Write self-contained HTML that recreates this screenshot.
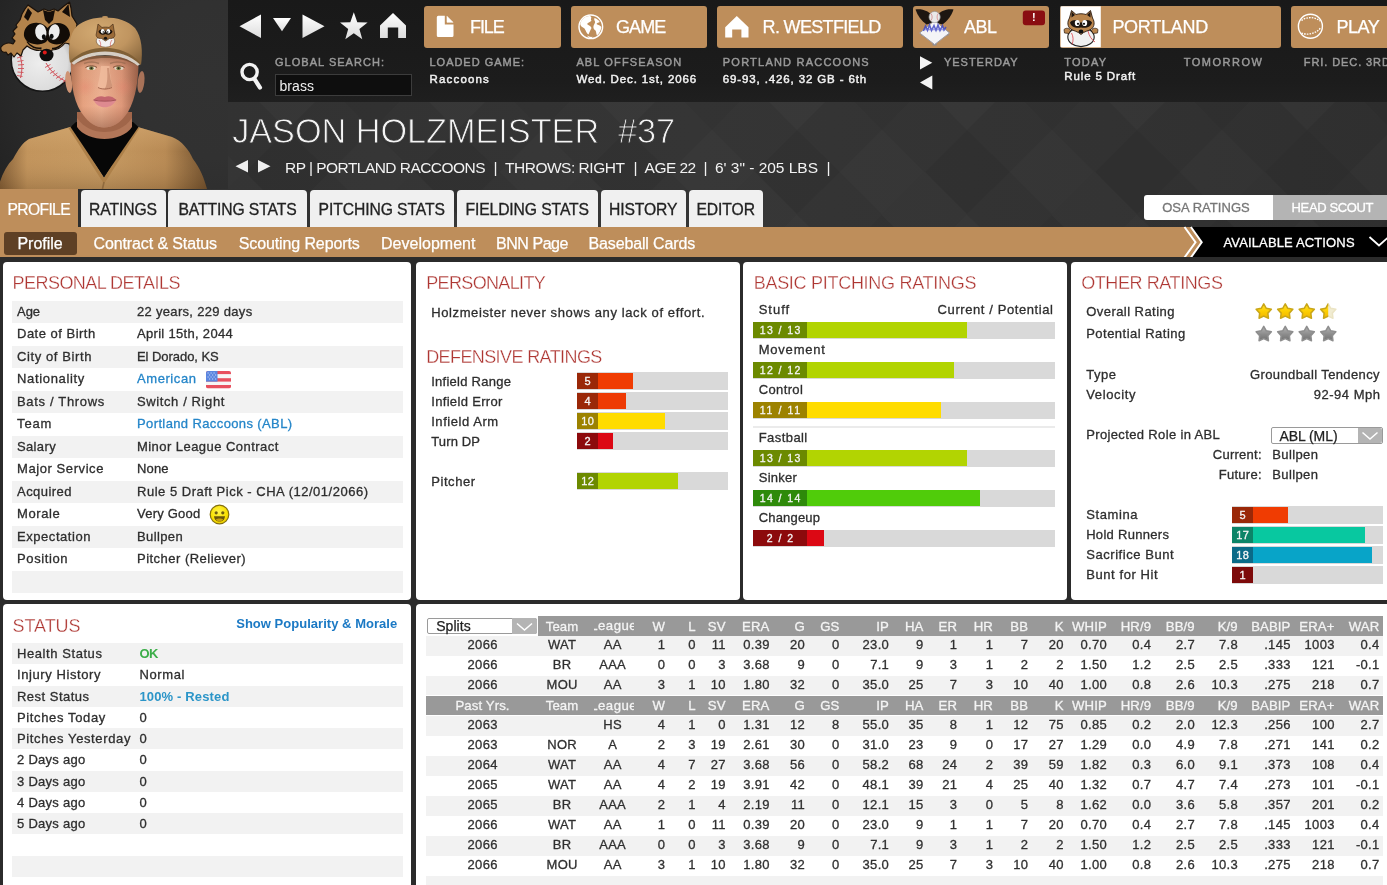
<!DOCTYPE html>
<html lang="en"><head><meta charset="utf-8"><title>Jason Holzmeister - Player Profile</title>
<style>
html,body{margin:0;padding:0}
body{width:1387px;height:885px;overflow:hidden;position:relative;background:#303030;
font-family:"Liberation Sans",sans-serif;-webkit-font-smoothing:antialiased}
.t{position:absolute;white-space:pre;margin:0;padding:0}
.b{position:absolute}
svg{position:absolute;overflow:visible}
</style></head><body>
<svg style="left:0;top:0" width="1387" height="262" viewBox="0 0 1387 262">
<defs>
<linearGradient id="hbg" x1="0" y1="0" x2="1" y2="0">
<stop offset="0" stop-color="#262626"/><stop offset="0.16" stop-color="#323232"/><stop offset="0.5" stop-color="#353535"/><stop offset="0.8" stop-color="#323232"/><stop offset="1" stop-color="#2f2f2f"/></linearGradient>
<pattern id="dia" width="170" height="170" patternUnits="userSpaceOnUse" patternTransform="translate(-10 -40)">
<path d="M42 0L84 42L42 84L0 42Z" fill="#fff" fill-opacity="0.016"/>
<path d="M127 0L170 42L127 84L85 42Z" fill="#000" fill-opacity="0.05"/>
<path d="M42 85L84 127L42 170L0 127Z" fill="#000" fill-opacity="0.04"/>
<path d="M127 85L170 127L127 170L85 127Z" fill="#fff" fill-opacity="0.02"/>
<path d="M85 42L127 85L85 127L42 85Z" fill="#fff" fill-opacity="0.012"/>
</pattern>
</defs>
<rect width="1387" height="262" fill="url(#hbg)"/>
<rect width="1387" height="262" fill="url(#dia)"/>
</svg>
<div class="b" style="left:227.00px;top:0.00px;width:1160.00px;height:102.40px;background:linear-gradient(#191919,#1c1c1c 80%,#1f1f1f);"></div>
<svg style="left:227px;top:0" width="200" height="102" viewBox="227 0 200 102">
<defs><linearGradient id="ig" x1="0" y1="0" x2="0" y2="1"><stop offset="0" stop-color="#ffffff"/><stop offset="1" stop-color="#dcdcdc"/></linearGradient></defs>
<g fill="url(#ig)">
<path d="M239.5 26.2L261 14.5V38Z"/>
<path d="M273 18H291L282 31.3Z"/>
<path d="M324.5 26.2L302.5 14.5V38Z"/>
<path d="M353.8 12.3L357.3 22.3L367.6 22.5L359.4 28.9L362.3 39.2L353.8 33.2L345.3 39.2L348.2 28.9L340 22.5L350.3 22.3Z"/>
<path d="M393 13L406 25.5V38H398.2V27.5H387.8V38H380V25.5Z"/>
</g>
<g fill="none" stroke="#f2f2f2" stroke-linecap="round">
<circle cx="249.6" cy="72" r="7.6" stroke-width="3.4"/>
<path d="M254.6 79.2L260 87.6" stroke-width="4.2"/>
</g>
</svg>
<div class="b" style="left:424.00px;top:5.50px;width:136.50px;height:42.50px;background:#be8e5b;border-radius:3px;"></div>
<div class="t" style="top:14.60px;font-size:18px;line-height:24px;color:#fff;letter-spacing:-1.066px;left:470.00px;-webkit-text-stroke:0.25px;">FILE</div>
<div class="b" style="left:570.50px;top:5.50px;width:136.50px;height:42.50px;background:#be8e5b;border-radius:3px;"></div>
<div class="t" style="top:14.60px;font-size:18px;line-height:24px;color:#fff;letter-spacing:-0.877px;left:616.00px;-webkit-text-stroke:0.25px;">GAME</div>
<div class="b" style="left:717.00px;top:5.50px;width:186.30px;height:42.50px;background:#be8e5b;border-radius:3px;"></div>
<div class="t" style="top:14.60px;font-size:18px;line-height:24px;color:#fff;letter-spacing:-0.668px;left:762.60px;-webkit-text-stroke:0.25px;">R. WESTFIELD</div>
<div class="b" style="left:913.30px;top:5.50px;width:136.00px;height:42.50px;background:#be8e5b;border-radius:3px;"></div>
<div class="t" style="top:14.60px;font-size:18px;line-height:24px;color:#fff;letter-spacing:-0.441px;left:963.90px;-webkit-text-stroke:0.25px;">ABL</div>
<div class="b" style="left:1059.80px;top:5.50px;width:221.20px;height:42.50px;background:#be8e5b;border-radius:3px;"></div>
<div class="t" style="top:14.60px;font-size:18px;line-height:24px;color:#fff;letter-spacing:-0.274px;left:1112.40px;-webkit-text-stroke:0.25px;">PORTLAND</div>
<div class="b" style="left:1290.80px;top:5.50px;width:110.00px;height:42.50px;background:#be8e5b;border-radius:3px;"></div>
<div class="t" style="top:14.60px;font-size:18px;line-height:24px;color:#fff;letter-spacing:-0.424px;left:1336.40px;-webkit-text-stroke:0.25px;">PLAY</div>
<svg style="left:420px;top:0" width="967" height="54" viewBox="420 0 967 54">
<!-- file icon -->
<path d="M438.300 15.800H444.800V24.400H453.500V35.500A1.500 1.500 0 0 1 452 37H438.300A1.500 1.500 0 0 1 436.800 35.500V17.300A1.500 1.500 0 0 1 438.300 15.800Z" fill="#fff"/>
<path d="M447 16.300L453 22.300H447Z" fill="#fff" stroke="#fff" stroke-width="0.600" stroke-linejoin="round"/>
<!-- globe icon -->
<circle cx="590.800" cy="26.800" r="11.800" fill="none" stroke="#fff" stroke-width="1.500"/>
<path d="M582.500 19.500C584.500 17 588 15.800 590.500 16.200C592.500 17.500 590 19 591.500 20.500C590.500 22.500 588 22 587 24C588.500 25.500 591 26 591.500 28C590.500 30 589.500 32 588.500 34.500C586.500 33.500 586 30.500 584.500 28.500C582.500 27 580.500 26.500 580.200 24C580.500 22 581.500 20.800 582.500 19.500Z" fill="#fff"/>
<path d="M594.500 18C596.500 18.500 598.500 20 599.800 22C598.500 23 597 22.500 596.500 24C598 25.500 600.500 25 601.300 27C601 30.500 599.500 33.500 597 35.500C596 34 596.500 32 595.500 30.500C594 29.500 593 28 593.500 26C594 24 595.500 23 595 21.500C594.500 20.500 593.800 19.200 594.500 18Z" fill="#fff"/>
<path d="M587 35.500C588.500 36.500 590.500 37.200 592.500 36.800L591.500 38.300C590 38.300 588.200 37.500 587 35.500Z" fill="#fff"/>
<!-- home icon -->
<path d="M736.8 16L748.5 27.2V37.6H741.4V29.6H732.2V37.6H725.2V27.2Z" fill="#fff"/>
<!-- ABL logo -->
<g>
<path d="M915.500 9.500C922 8.500 930 11 933.500 17.500L932 23L926.500 24.500C921.500 21 917.500 15.500 915.500 9.500Z" fill="#1d1611"/>
<path d="M953.500 9.500C947 8.500 939 11 935.500 17.500L937 23L942.500 24.500C947.500 21 951.500 15.500 953.500 9.500Z" fill="#1d1611"/>
<path d="M921 31.500h4v4h-4zM944.500 31.500h4v4h-4zM932.600 41.500h4v4h-4z" fill="#8b8b93"/>
<path d="M934.600 20.500L949.500 33L934.600 44.500L919.700 33Z" fill="#f4f4f7" stroke="#9c9ca6" stroke-width="1"/>
<path d="M923.500 31L925.500 26L927.500 30.500L929.500 25L931.500 30.500L934 25.500L936 30.500L938 25L940 30.500L942.500 25.500L944 30L946 27" fill="none" stroke="#4148c4" stroke-width="1.500" stroke-opacity="0.85"/>
<path d="M925 29.500H945" stroke="#6a70d8" stroke-width="1.600" stroke-opacity="0.6"/>
<circle cx="934.600" cy="17" r="5.600" fill="#e9e9e9" stroke="#9a9a9a" stroke-width="0.700"/>
<path d="M931 13.500C932.500 15.500 932.500 18.500 931 20.500M938.200 13.500C936.700 15.500 936.700 18.500 938.200 20.500" fill="none" stroke="#c66" stroke-width="0.600"/>
</g>
<!-- red badge -->
<rect x="1022.8" y="10.6" width="22.2" height="14.6" rx="3" fill="#8a0d12"/>
<!-- Portland logo box -->
<rect x="1060.6" y="6.3" width="40.2" height="41" fill="#fff"/>
<g>
<ellipse cx="1081" cy="37" rx="13.200" ry="9.600" fill="#f1f1f1" stroke="#222" stroke-width="1.100"/>
<path d="M1071.500 33C1073.500 36.500 1073.500 41 1072 44.500M1088 31C1089 36 1092 40 1095 42" fill="none" stroke="#d8404a" stroke-width="0.800"/>
<path d="M1064 29.500C1066 27.500 1069.500 28 1070.500 30.500L1069 33.500L1064.500 33Z M1098 29.500C1096 27.500 1092.500 28 1091.500 30.500L1093 33.500L1097.500 33Z" fill="#b9854d" stroke="#2a1a0e" stroke-width="0.700"/>
<path d="M1069.500 18L1071.500 10.500L1076 14.500C1079 13.500 1083 13.500 1086 14.500L1090.500 10.500L1092.500 18C1095 22 1094.500 26.500 1091.500 29C1088.500 31 1084.500 31 1081 34.500C1077.500 31 1073.500 31 1070.500 29C1067.500 26.500 1067 22 1069.500 18Z" fill="#b9854d" stroke="#2a1a0e" stroke-width="0.900"/>
<path d="M1071.500 11.500L1075 15L1071.500 17.500ZM1090.500 11.500L1087 15L1090.500 17.500Z" fill="#1d1510"/>
<path d="M1070 22.500C1073 19 1078.500 19.500 1081 23C1083.500 19.500 1089 19 1092 22.500C1091 27 1086.500 28.500 1081 27.500C1075.500 28.500 1071 27 1070 22.500Z" fill="#1d1510"/>
<ellipse cx="1077.300" cy="23" rx="2.500" ry="3.100" fill="#fff"/><ellipse cx="1084.700" cy="23" rx="2.500" ry="3.100" fill="#fff"/>
<circle cx="1078" cy="23.800" r="1.100" fill="#111"/><circle cx="1084" cy="23.800" r="1.100" fill="#111"/>
<ellipse cx="1081" cy="31.500" rx="2.400" ry="2.100" fill="#111"/>
</g>
<!-- play ball icon -->
<circle cx="1310.4" cy="26.3" r="12" fill="none" stroke="#fff" stroke-width="1.4"/>
<path d="M1301.5 20.5C1306 16.800 1315 16.5 1320 21" fill="none" stroke="#fff" stroke-width="1.3" stroke-dasharray="1.6 1.1"/>
<path d="M1301.500 33C1308 35.500 1316 33.500 1320.500 28" fill="none" stroke="#fff" stroke-width="1.3" stroke-dasharray="1.6 1.1"/>
</svg>
<div class="t" style="top:9.10px;font-size:11px;line-height:17px;color:#fff;font-weight:bold;left:733.90px;width:600px;text-align:center;">!</div>
<div class="t" style="top:53.90px;font-size:11px;line-height:17px;color:#9a9a9a;letter-spacing:1.031px;left:275.00px;-webkit-text-stroke:0.45px;">GLOBAL SEARCH:</div>
<div class="t" style="top:53.90px;font-size:11px;line-height:17px;color:#9a9a9a;letter-spacing:0.980px;left:429.50px;-webkit-text-stroke:0.45px;">LOADED GAME:</div>
<div class="t" style="top:70.85px;font-size:11.5px;line-height:17.5px;color:#f2f2f2;letter-spacing:1.170px;left:429.50px;-webkit-text-stroke:0.45px;">Raccoons</div>
<div class="t" style="top:53.90px;font-size:11px;line-height:17px;color:#9a9a9a;letter-spacing:1.132px;left:576.40px;-webkit-text-stroke:0.45px;">ABL OFFSEASON</div>
<div class="t" style="top:70.85px;font-size:11.5px;line-height:17.5px;color:#f2f2f2;letter-spacing:0.875px;left:576.40px;-webkit-text-stroke:0.45px;">Wed. Dec. 1st, 2066</div>
<div class="t" style="top:53.90px;font-size:11px;line-height:17px;color:#9a9a9a;letter-spacing:1.222px;left:722.80px;-webkit-text-stroke:0.45px;">PORTLAND RACCOONS</div>
<div class="t" style="top:70.85px;font-size:11.5px;line-height:17.5px;color:#f2f2f2;letter-spacing:0.867px;left:722.80px;-webkit-text-stroke:0.45px;">69-93, .426, 32 GB - 6th</div>
<div class="t" style="top:53.90px;font-size:11px;line-height:17px;color:#9a9a9a;letter-spacing:0.998px;left:943.90px;-webkit-text-stroke:0.45px;">YESTERDAY</div>
<div class="t" style="top:53.90px;font-size:11px;line-height:17px;color:#9a9a9a;letter-spacing:1.204px;left:1064.30px;-webkit-text-stroke:0.45px;">TODAY</div>
<div class="t" style="top:68.05px;font-size:11.5px;line-height:17.5px;color:#f2f2f2;letter-spacing:0.862px;left:1064.30px;-webkit-text-stroke:0.45px;">Rule 5 Draft</div>
<div class="t" style="top:53.90px;font-size:11px;line-height:17px;color:#9a9a9a;letter-spacing:1.510px;left:1183.70px;-webkit-text-stroke:0.45px;">TOMORROW</div>
<div class="t" style="top:53.90px;font-size:11px;line-height:17px;color:#9a9a9a;letter-spacing:0.910px;left:1303.80px;-webkit-text-stroke:0.45px;">FRI. DEC. 3RD</div>
<div class="b" style="left:274.50px;top:74.00px;width:137.50px;height:22.00px;background:#0e0e0e;border:1px solid #3c3c3c;box-sizing:border-box;"></div>
<div class="t" style="top:75.60px;font-size:14px;line-height:20px;color:#f0f0f0;letter-spacing:0.053px;left:279.50px;">brass</div>
<svg style="left:915px;top:52px" width="24" height="42" viewBox="915 52 24 42">
<path d="M920 56.200L932.300 62.800L920 69.500Z" fill="#f4f4f4"/>
<path d="M932.3 75.5L920 82.5L932.3 89.5Z" fill="#f4f4f4"/></svg>
<div class="t" style="top:111.20px;font-size:34.3px;line-height:40px;color:#f4f4f4;letter-spacing:-0.051px;left:232.20px;-webkit-text-stroke:0.9px #363636;">JASON HOLZMEISTER  #37</div>
<svg style="left:233px;top:157px" width="40" height="18" viewBox="233 157 40 18">
<path d="M235.5 166.200L248 160V172.500Z" fill="#efefef"/><path d="M270.5 166.200L258 160V172.500Z" fill="#efefef"/></svg>
<div class="t" style="top:157.05px;font-size:15.5px;line-height:21.5px;color:#f2f2f2;letter-spacing:-0.540px;left:285.00px;">RP | PORTLAND RACCOONS</div>
<div class="t" style="top:157.05px;font-size:15.5px;line-height:21.5px;color:#f2f2f2;left:493.60px;">|</div>
<div class="t" style="top:157.05px;font-size:15.5px;line-height:21.5px;color:#f2f2f2;letter-spacing:-0.485px;left:505.00px;">THROWS: RIGHT</div>
<div class="t" style="top:157.05px;font-size:15.5px;line-height:21.5px;color:#f2f2f2;left:633.60px;">|</div>
<div class="t" style="top:157.05px;font-size:15.5px;line-height:21.5px;color:#f2f2f2;letter-spacing:-0.547px;left:644.60px;">AGE 22</div>
<div class="t" style="top:157.05px;font-size:15.5px;line-height:21.5px;color:#f2f2f2;left:703.60px;">|</div>
<div class="t" style="top:157.05px;font-size:15.5px;line-height:21.5px;color:#f2f2f2;letter-spacing:-0.017px;left:715.00px;">6' 3" - 205 LBS</div>
<div class="t" style="top:157.05px;font-size:15.5px;line-height:21.5px;color:#f2f2f2;left:826.60px;">|</div>
<div class="b" style="left:0.00px;top:189.00px;width:78.00px;height:38.00px;background:#be8e5b;"></div>
<div class="t" style="top:198.95px;font-size:15.7px;line-height:21.7px;color:#fff;letter-spacing:-0.668px;left:7.50px;-webkit-text-stroke:0.2px;">PROFILE</div>
<div class="b" style="left:80.50px;top:189.50px;width:85.00px;height:37.00px;background:#f0f0f0;border-radius:4px 4px 0 0;"></div>
<div class="t" style="top:198.95px;font-size:15.7px;line-height:21.7px;color:#222;letter-spacing:-0.100px;left:-177.05px;width:600px;text-align:center;-webkit-text-stroke:0.3px;">RATINGS</div>
<div class="b" style="left:168.00px;top:189.50px;width:139.00px;height:37.00px;background:#f0f0f0;border-radius:4px 4px 0 0;"></div>
<div class="t" style="top:198.95px;font-size:15.7px;line-height:21.7px;color:#222;letter-spacing:-0.100px;left:-62.55px;width:600px;text-align:center;-webkit-text-stroke:0.3px;">BATTING STATS</div>
<div class="b" style="left:309.50px;top:189.50px;width:144.50px;height:37.00px;background:#f0f0f0;border-radius:4px 4px 0 0;"></div>
<div class="t" style="top:198.95px;font-size:15.7px;line-height:21.7px;color:#222;letter-spacing:-0.100px;left:81.70px;width:600px;text-align:center;-webkit-text-stroke:0.3px;">PITCHING STATS</div>
<div class="b" style="left:456.50px;top:189.50px;width:141.50px;height:37.00px;background:#f0f0f0;border-radius:4px 4px 0 0;"></div>
<div class="t" style="top:198.95px;font-size:15.7px;line-height:21.7px;color:#222;letter-spacing:-0.100px;left:227.20px;width:600px;text-align:center;-webkit-text-stroke:0.3px;">FIELDING STATS</div>
<div class="b" style="left:600.50px;top:189.50px;width:85.50px;height:37.00px;background:#f0f0f0;border-radius:4px 4px 0 0;"></div>
<div class="t" style="top:198.95px;font-size:15.7px;line-height:21.7px;color:#222;letter-spacing:-0.100px;left:343.20px;width:600px;text-align:center;-webkit-text-stroke:0.3px;">HISTORY</div>
<div class="b" style="left:688.50px;top:189.50px;width:74.50px;height:37.00px;background:#f0f0f0;border-radius:4px 4px 0 0;"></div>
<div class="t" style="top:198.95px;font-size:15.7px;line-height:21.7px;color:#222;letter-spacing:-0.100px;left:425.70px;width:600px;text-align:center;-webkit-text-stroke:0.3px;">EDITOR</div>
<div class="b" style="left:1143.50px;top:195.00px;width:129.00px;height:25.00px;background:#fff;border-radius:3px 0 0 3px;"></div>
<div class="b" style="left:1272.50px;top:195.00px;width:115.00px;height:25.00px;background:#b4b4b4;"></div>
<div class="t" style="top:197.80px;font-size:13px;line-height:19px;color:#777;letter-spacing:0.039px;left:1162.20px;-webkit-text-stroke:0.3px;">OSA RATINGS</div>
<div class="t" style="top:197.80px;font-size:13px;line-height:19px;color:#fff;letter-spacing:-0.383px;left:1291.60px;-webkit-text-stroke:0.3px;">HEAD SCOUT</div>
<div class="b" style="left:0.00px;top:226.50px;width:1387.00px;height:30.50px;background:#be8e5b;"></div>
<div class="b" style="left:3.50px;top:232.00px;width:73.00px;height:22.50px;background:#5e4025;border-radius:3px;"></div>
<div class="t" style="top:232.70px;font-size:16px;line-height:22px;color:#fff;letter-spacing:-0.051px;left:17.50px;-webkit-text-stroke:0.25px;">Profile</div>
<div class="t" style="top:232.70px;font-size:16px;line-height:22px;color:#fff;letter-spacing:-0.111px;left:93.50px;-webkit-text-stroke:0.25px;">Contract &amp; Status</div>
<div class="t" style="top:232.70px;font-size:16px;line-height:22px;color:#fff;letter-spacing:-0.109px;left:238.70px;-webkit-text-stroke:0.25px;">Scouting Reports</div>
<div class="t" style="top:232.70px;font-size:16px;line-height:22px;color:#fff;letter-spacing:0.020px;left:381.00px;-webkit-text-stroke:0.25px;">Development</div>
<div class="t" style="top:232.70px;font-size:16px;line-height:22px;color:#fff;letter-spacing:-0.450px;left:496.00px;-webkit-text-stroke:0.25px;">BNN Page</div>
<div class="t" style="top:232.70px;font-size:16px;line-height:22px;color:#fff;letter-spacing:-0.143px;left:588.50px;-webkit-text-stroke:0.25px;">Baseball Cards</div>
<svg style="left:1170px;top:226.5px" width="217" height="30.5" viewBox="1170 226.500 217 30.500">
<path d="M1190.700 226.500L1201.700 241.750L1190.700 257H1387V226.500Z" fill="#000"/>
<path d="M1184.500 226.500L1195.500 241.750L1184.500 257" fill="none" stroke="#fff" stroke-width="2"/>
<path d="M1190.900 226.500L1201.700 241.750L1190.900 257" fill="none" stroke="#fff" stroke-width="2"/>
<path d="M1369.500 236.500L1379 245L1388.500 236.500" fill="none" stroke="#fff" stroke-width="1.800"/>
</svg>
<div class="t" style="top:232.50px;font-size:13px;line-height:19px;color:#fff;letter-spacing:0.138px;left:1223.50px;-webkit-text-stroke:0.3px;">AVAILABLE ACTIONS</div>
<div class="b" style="left:0.00px;top:257.00px;width:1387.00px;height:628.00px;background:#2b2b2b;"></div>
<svg style="left:0;top:0" width="228" height="189" viewBox="0 0 228 189">
<defs>
<clipPath id="pc"><rect width="228" height="189"/></clipPath>
<radialGradient id="vig" gradientUnits="userSpaceOnUse" cx="215" cy="80" r="260"><stop offset="0" stop-color="#323232"/><stop offset="0.3" stop-color="#313131"/><stop offset="0.75" stop-color="#292929"/><stop offset="1" stop-color="#202020"/></radialGradient>
<radialGradient id="ballg" cx="0.45" cy="0.55" r="0.6"><stop offset="0" stop-color="#ededed"/><stop offset="0.75" stop-color="#dcdcdc"/><stop offset="1" stop-color="#a8a8a8"/></radialGradient>
<radialGradient id="capg" cx="0.4" cy="0.3" r="0.8"><stop offset="0" stop-color="#d3aa72"/><stop offset="0.55" stop-color="#c09560"/><stop offset="1" stop-color="#8a683e"/></radialGradient>
<linearGradient id="skin" x1="0" y1="0" x2="1" y2="0"><stop offset="0" stop-color="#b87858"/><stop offset="0.18" stop-color="#e6a280"/><stop offset="0.45" stop-color="#efb394"/><stop offset="0.75" stop-color="#de987a"/><stop offset="1" stop-color="#9a6048"/></linearGradient>
<linearGradient id="fsh" x1="0" y1="0" x2="0" y2="1"><stop offset="0" stop-color="#7a4a30" stop-opacity="0.55"/><stop offset="0.16" stop-color="#7a4a30" stop-opacity="0.08"/><stop offset="0.7" stop-color="#7a4a30" stop-opacity="0"/><stop offset="1" stop-color="#6a3a28" stop-opacity="0.4"/></linearGradient>
<linearGradient id="jer" x1="0" y1="0" x2="1" y2="0"><stop offset="0" stop-color="#7c5832"/><stop offset="0.14" stop-color="#c2945c"/><stop offset="0.5" stop-color="#c69a62"/><stop offset="0.8" stop-color="#b88a54"/><stop offset="1" stop-color="#6e4e2c"/></linearGradient>
<linearGradient id="jsh" x1="0" y1="0" x2="0" y2="1"><stop offset="0" stop-color="#d8ac74" stop-opacity="0.5"/><stop offset="0.4" stop-color="#d8ac74" stop-opacity="0"/><stop offset="1" stop-color="#5a3c1c" stop-opacity="0.25"/></linearGradient>
<radialGradient id="blush"><stop offset="0" stop-color="#e8806c" stop-opacity="0.32"/><stop offset="1" stop-color="#e8806c" stop-opacity="0"/></radialGradient>
</defs>
<g clip-path="url(#pc)">
<rect width="228" height="189" fill="url(#vig)"/>
<!-- raccoon team logo : ball -->
<circle cx="42.500" cy="60" r="31.300" fill="url(#ballg)" stroke="#151515" stroke-width="1.600"/>
<g fill="none" stroke="#d05058" stroke-width="1">
<path d="M19.500 55C22.500 62 22.500 70 20.500 78"/><path d="M46 63C51 72 58 78 67.500 82"/>
<path d="M17 58L22.500 56.500M17.500 61.500L23.500 60.500M18 65L24 64.500M18 68.500L24 68.500M17.500 72L23.500 72.500M17 75.500L22.500 76.500" stroke-width="0.900"/>
<path d="M45 67.500L50.500 64.500M47.500 70.500L52.500 67.500M50 73.500L55 70.500M53 76L57.500 73M56 78.500L60.500 75.500M59.500 80.500L63.500 77.500M63 82.500L66.500 79.500" stroke-width="0.900"/>
</g>
<!-- raccoon head -->
<path d="M28 5L25 9L22 14L20 20L16 25L17 27L13 31L15 34L12 38L15 41L13 44C9 42 4 43 1 47C0 51 3 53 6 52L8 55L11 53L14 57L17 53L21 56L23 50L27 46C32 50 38 51 41 50C42 54 44 57 46.500 57C49 57 51 54 52 50C57 50 62 47 65 43L70 44L77 38L76 30L77 24L72 16L71 8L69.500 2L64 6L58 11L54 9L49 11L44 9L38 12Z" fill="#b3834b" stroke="#1a110a" stroke-width="1.200" stroke-linejoin="round"/>
<path d="M28 8L32 13L28 21L24 17Z M68.500 4L70 17L62 12Z" fill="#140d08"/>
<path d="M43 10L49 12L55 10L53 20L49 24L45 20Z" fill="#140d08"/>
<path d="M24 33C25 26 31 22 38 23C42 23 45 25 47.500 28C50 25 53 23 58 23C65 23 70 28 70 35C69 40 65 43 60 44C56 45 52 44 49 42L47.500 40L46 42C43 44 38 45 34 44C28 43 23 39 24 33Z" fill="#120c07"/>
<ellipse cx="40.800" cy="32.200" rx="5.600" ry="8" fill="#ececec" transform="rotate(-8 40.800 32.200)"/>
<ellipse cx="54.200" cy="32" rx="5.400" ry="7.800" fill="#ececec" transform="rotate(10 54.200 32)"/>
<ellipse cx="43.800" cy="36.800" rx="2" ry="2.600" fill="#0c0c0c"/><ellipse cx="51.600" cy="36.300" rx="2" ry="2.600" fill="#0c0c0c"/>
<path d="M27 41.500C30 47 37 49 41.500 48M64.500 40.500C62 46 56 49 52 48.500" fill="none" stroke="#120c07" stroke-width="1.500"/>
<ellipse cx="46.500" cy="55" rx="7" ry="6.300" fill="#0e0e0e"/><circle cx="44.800" cy="52.600" r="2" fill="#e01a1a"/>
<!-- neck -->
<path d="M82 108L80 134L104 152L128 134L126 108Z" fill="#c48868"/>
<path d="M82 112C90 124 118 124 126 112L126 128L104 146L82 128Z" fill="#8c5a40" fill-opacity="0.45"/>
<!-- jersey -->
<path d="M-2 189C1 176 6 166 13 159C18 150 22 143 29 139L72 126.500L104 178L136 126.500L172 137C182 141 189 150 193 159C200 168 204 178 207 189Z" fill="url(#jer)"/>
<path d="M-2 189C1 176 6 166 13 159C18 150 22 143 29 139L72 126.500L104 178L136 126.500L172 137C182 141 189 150 193 159C200 168 204 178 207 189Z" fill="url(#jsh)"/>
<path d="M72 126.500L104 178L136 126.500L139.500 128L104 184L68.500 128Z" fill="#ad8049"/>
<path d="M104 182L102.500 189" stroke="#8f6a3e" stroke-width="1.600"/>
<!-- black undershirt -->
<path d="M70.500 127L76 122L133 122L138.500 127L104 177Z" fill="#070707"/>
<path d="M77 112L77 127C82 135 94 139 104.500 139C115 139 127 135 132 127L132 112Z" fill="#b27658"/>
<path d="M77 118C84 128 94 132 104.500 132C115 132 125 128 132 118L132 112L77 112Z" fill="#8a5238" fill-opacity="0.45"/>
<!-- ears -->
<ellipse cx="68.700" cy="82" rx="3.300" ry="11" fill="#cf9474" transform="rotate(-6 68.700 82)"/>
<ellipse cx="141" cy="82" rx="3.400" ry="11" fill="#a87258" transform="rotate(6 141 82)"/>
<!-- face -->
<path d="M71 56C70 78 72.500 99 81 112C89 124 97 127.500 104 127.500C112 127.500 120 124 128 112C136 98 139 78 138.500 56Z" fill="url(#skin)"/>
<path d="M71 56C70 78 72.500 99 81 112C89 124 97 127.500 104 127.500C112 127.500 120 124 128 112C136 98 139 78 138.500 56Z" fill="url(#fsh)"/>
<ellipse cx="85" cy="87" rx="11" ry="10" fill="url(#blush)"/><ellipse cx="124" cy="87" rx="11" ry="10" fill="url(#blush)"/>
<!-- nose -->
<path d="M101 66C100 76 98.500 82 97.500 86C100 89.500 110 89.500 112.500 86C111.500 82 110 76 109.500 66Z" fill="#f0be9f" fill-opacity="0.75"/>
<path d="M109 68C110 78 111.500 83 112.500 86C111 88.500 107 89.500 104 89.500C107 87 108 78 107 68Z" fill="#b87a5e" fill-opacity="0.55"/>
<path d="M98 87.500C101 89.500 108 89.500 112 87.500" stroke="#a86a52" stroke-width="1" fill="none"/>
<!-- lips -->
<path d="M93.500 100C97 96 101.500 95.800 104.800 97C108 95.800 112.500 96 116.200 100C110 101.500 100 101.500 93.500 100Z" fill="#c4666e"/>
<path d="M93.500 100C100 101.500 110 101.500 116.200 100C113 106 108 107.300 104.800 107.300C101.500 107.300 96.500 106 93.500 100Z" fill="#de8a90"/>
<path d="M93.500 100C100 101.600 110 101.600 116.200 100" stroke="#9c4c54" stroke-width="0.900" fill="none"/>
<!-- eyes + brows -->
<ellipse cx="91" cy="68.200" rx="4.600" ry="1.900" fill="#e8dccb"/><ellipse cx="119" cy="68.200" rx="4.600" ry="1.900" fill="#e0d2c0"/>
<ellipse cx="91.400" cy="68.200" rx="2.200" ry="1.900" fill="#6f7438"/><ellipse cx="118.600" cy="68.200" rx="2.200" ry="1.900" fill="#6f7438"/>
<circle cx="91.400" cy="68.200" r="0.900" fill="#222"/><circle cx="118.600" cy="68.200" r="0.900" fill="#222"/>
<path d="M85.500 67.500C89 65.300 94 65.300 97 67.500M113 67.500C116 65.300 121 65.300 124.500 67.500" stroke="#7a5238" stroke-width="1" fill="none"/>
<path d="M84 63.500C89 61.500 95 61.800 99 63.500M110 63.500C114 61.800 120 61.500 125.500 63.500" stroke="#8a6248" stroke-width="1.400" fill="none" stroke-opacity="0.55"/>
<!-- cap -->
<path d="M70 63C67.500 50 69 34 77 26C84 20 94 17.500 105 17.500C117 17.500 128 20.500 135 28C142 37 143 52 141 65C131 55 118 50.500 105 50.500C92 50.500 80 54.500 70 63Z" fill="url(#capg)"/>
<path transform="translate(0 -1.800)" d="M70 63C80 53.500 92 49.500 105 49.500C118 49.500 131 54 141 65L139.500 66C130 57.500 118 53.800 105 53.800C93 53.800 81 57 72 64.500Z" fill="#806036"/>
<path transform="translate(0 -1.800)" d="M71.500 64.800C81 56.500 93 53.300 105 53.300C118 53.300 130 57 140 66.200L137.500 67.500C128.500 60.500 118 57 105 57C93 57 82.500 59.800 74 66.500Z" fill="#d6cec4"/>
<path transform="translate(0 -1.800)" d="M74 66.500C82.500 59.800 93 57 105 57C118 57 128.500 60.500 137.500 67.500C128 62 117 59.800 105 59.800C94 59.800 83.500 61.800 74 66.500Z" fill="#5a3c22" fill-opacity="0.55"/>
<ellipse cx="105" cy="17.300" rx="3" ry="1.400" fill="#c09560"/>
<!-- cap logo -->
<ellipse cx="105.500" cy="41" rx="9.300" ry="6.200" fill="#f2f2f2" stroke="#6b4a28" stroke-width="0.600"/>
<path d="M99 40C100.500 42 101 44 100.500 46.500M112 40C110.500 42 110 44 110.500 46.500" fill="none" stroke="#d04848" stroke-width="0.600"/>
<path d="M96.500 33L98 24L102 27.500C104 27 107 27 109 27.500L113 24L114.500 33C116 36.500 113 39 109.500 38.500L105.500 41L101.500 38.500C98 39 95 36.500 96.500 33Z" fill="#9b6b38" stroke="#3a2512" stroke-width="0.600"/>
<path d="M98.500 31.500C100 28.500 104 28.500 105.500 31C107 28.500 111 28.500 112.500 31.500C112 34.500 108 35.500 105.500 34C103 35.500 99 34.500 98.500 31.500Z" fill="#1a110a"/>
<ellipse cx="102.700" cy="31.300" rx="1.900" ry="2.300" fill="#fff"/><ellipse cx="108.300" cy="31.300" rx="1.900" ry="2.300" fill="#fff"/>
<circle cx="103.300" cy="32" r="0.800" fill="#111"/><circle cx="107.700" cy="32" r="0.800" fill="#111"/>
<ellipse cx="105.500" cy="38.300" rx="1.700" ry="1.500" fill="#111"/>
</g></svg>
<div class="b" style="left:2.50px;top:262.00px;width:408.50px;height:338.20px;background:#fff;border-radius:4px;"></div>
<div class="b" style="left:416.00px;top:262.00px;width:323.50px;height:338.20px;background:#fff;border-radius:4px;"></div>
<div class="b" style="left:743.00px;top:262.00px;width:324.00px;height:338.20px;background:#fff;border-radius:4px;"></div>
<div class="b" style="left:1070.50px;top:262.00px;width:330.00px;height:338.20px;background:#fff;border-radius:4px;"></div>
<div class="b" style="left:2.50px;top:604.30px;width:408.50px;height:300.00px;background:#fff;border-radius:4px;"></div>
<div class="b" style="left:416.00px;top:604.30px;width:990.00px;height:300.00px;background:#fff;border-radius:4px;"></div>
<div class="t" style="top:271.00px;font-size:18px;line-height:24px;color:#ae3632;letter-spacing:-0.535px;left:12.50px;-webkit-text-stroke:0.3px #fff;">PERSONAL DETAILS</div>
<div class="b" style="left:12.00px;top:300.50px;width:391.00px;height:22.50px;background:#f2f2f2;"></div>
<div class="b" style="left:12.00px;top:345.50px;width:391.00px;height:22.50px;background:#f2f2f2;"></div>
<div class="b" style="left:12.00px;top:390.50px;width:391.00px;height:22.50px;background:#f2f2f2;"></div>
<div class="b" style="left:12.00px;top:435.50px;width:391.00px;height:22.50px;background:#f2f2f2;"></div>
<div class="b" style="left:12.00px;top:480.50px;width:391.00px;height:22.50px;background:#f2f2f2;"></div>
<div class="b" style="left:12.00px;top:525.50px;width:391.00px;height:22.50px;background:#f2f2f2;"></div>
<div class="b" style="left:12.00px;top:570.50px;width:391.00px;height:22.50px;background:#f2f2f2;"></div>
<div class="t" style="top:301.50px;font-size:13px;line-height:19px;color:#2e2e2e;letter-spacing:-0.044px;left:17.00px;-webkit-text-stroke:0.3px;">Age</div>
<div class="t" style="top:301.50px;font-size:13px;line-height:19px;color:#2e2e2e;letter-spacing:0.314px;left:137.00px;-webkit-text-stroke:0.3px;">22 years, 229 days</div>
<div class="t" style="top:324.00px;font-size:13px;line-height:19px;color:#2e2e2e;letter-spacing:0.496px;left:17.00px;-webkit-text-stroke:0.3px;">Date of Birth</div>
<div class="t" style="top:324.00px;font-size:13px;line-height:19px;color:#2e2e2e;letter-spacing:0.308px;left:137.00px;-webkit-text-stroke:0.3px;">April 15th, 2044</div>
<div class="t" style="top:346.50px;font-size:13px;line-height:19px;color:#2e2e2e;letter-spacing:0.601px;left:17.00px;-webkit-text-stroke:0.3px;">City of Birth</div>
<div class="t" style="top:346.50px;font-size:13px;line-height:19px;color:#2e2e2e;letter-spacing:-0.052px;left:137.00px;-webkit-text-stroke:0.3px;">El Dorado, KS</div>
<div class="t" style="top:369.00px;font-size:13px;line-height:19px;color:#2e2e2e;letter-spacing:0.664px;left:17.00px;-webkit-text-stroke:0.3px;">Nationality</div>
<div class="t" style="top:369.00px;font-size:13px;line-height:19px;color:#2586c9;letter-spacing:0.574px;left:137.00px;-webkit-text-stroke:0.3px;">American</div>
<div class="t" style="top:391.50px;font-size:13px;line-height:19px;color:#2e2e2e;letter-spacing:0.674px;left:17.00px;-webkit-text-stroke:0.3px;">Bats / Throws</div>
<div class="t" style="top:391.50px;font-size:13px;line-height:19px;color:#2e2e2e;letter-spacing:0.609px;left:137.00px;-webkit-text-stroke:0.3px;">Switch / Right</div>
<div class="t" style="top:414.00px;font-size:13px;line-height:19px;color:#2e2e2e;letter-spacing:0.877px;left:17.00px;-webkit-text-stroke:0.3px;">Team</div>
<div class="t" style="top:414.00px;font-size:13px;line-height:19px;color:#2586c9;letter-spacing:0.383px;left:137.00px;-webkit-text-stroke:0.3px;">Portland Raccoons (ABL)</div>
<div class="t" style="top:436.50px;font-size:13px;line-height:19px;color:#2e2e2e;letter-spacing:0.358px;left:17.00px;-webkit-text-stroke:0.3px;">Salary</div>
<div class="t" style="top:436.50px;font-size:13px;line-height:19px;color:#2e2e2e;letter-spacing:0.450px;left:137.00px;-webkit-text-stroke:0.3px;">Minor League Contract</div>
<div class="t" style="top:459.00px;font-size:13px;line-height:19px;color:#2e2e2e;letter-spacing:0.579px;left:17.00px;-webkit-text-stroke:0.3px;">Major Service</div>
<div class="t" style="top:459.00px;font-size:13px;line-height:19px;color:#2e2e2e;letter-spacing:0.155px;left:137.00px;-webkit-text-stroke:0.3px;">None</div>
<div class="t" style="top:481.50px;font-size:13px;line-height:19px;color:#2e2e2e;letter-spacing:0.461px;left:17.00px;-webkit-text-stroke:0.3px;">Acquired</div>
<div class="t" style="top:481.50px;font-size:13px;line-height:19px;color:#2e2e2e;letter-spacing:0.510px;left:137.00px;-webkit-text-stroke:0.3px;">Rule 5 Draft Pick - CHA (12/01/2066)</div>
<div class="t" style="top:504.00px;font-size:13px;line-height:19px;color:#2e2e2e;letter-spacing:0.594px;left:17.00px;-webkit-text-stroke:0.3px;">Morale</div>
<div class="t" style="top:504.00px;font-size:13px;line-height:19px;color:#2e2e2e;letter-spacing:0.230px;left:137.00px;-webkit-text-stroke:0.3px;">Very Good</div>
<div class="t" style="top:526.50px;font-size:13px;line-height:19px;color:#2e2e2e;letter-spacing:0.551px;left:17.00px;-webkit-text-stroke:0.3px;">Expectation</div>
<div class="t" style="top:526.50px;font-size:13px;line-height:19px;color:#2e2e2e;letter-spacing:0.376px;left:137.00px;-webkit-text-stroke:0.3px;">Bullpen</div>
<div class="t" style="top:549.00px;font-size:13px;line-height:19px;color:#2e2e2e;letter-spacing:0.619px;left:17.00px;-webkit-text-stroke:0.3px;">Position</div>
<div class="t" style="top:549.00px;font-size:13px;line-height:19px;color:#2e2e2e;letter-spacing:0.477px;left:137.00px;-webkit-text-stroke:0.3px;">Pitcher (Reliever)</div>
<svg style="left:205.5px;top:370.5px" width="25" height="17.5" viewBox="0 0 25 17.500">
<defs><clipPath id="fc"><rect width="25" height="17.500" rx="2"/></clipPath></defs>
<g clip-path="url(#fc)"><rect width="25" height="17.500" fill="#f6f6f6"/>
<rect y="0" width="25" height="3.100" fill="#e8505e"/><rect y="7.200" width="25" height="3.400" fill="#e8505e"/>
<rect y="14" width="25" height="3.500" fill="#e8505e"/>
<rect width="11.500" height="10.600" fill="#5b86e0"/>
<path d="M1.500 2h1.200M4.500 2h1.200M7.500 2h1.200M3 4h1.200M6 4h1.200M9 4h1.200M1.500 6h1.200M4.500 6h1.200M7.500 6h1.200M3 8h1.200M6 8h1.200M9 8h1.200" stroke="#c4d4f4" stroke-width="1.100"/></g></svg>
<svg style="left:209px;top:503.6px" width="21" height="21" viewBox="0 0 21 21">
<defs><radialGradient id="sm" cx="0.45" cy="0.35" r="0.75"><stop offset="0" stop-color="#fff34a"/><stop offset="0.6" stop-color="#f9e000"/><stop offset="1" stop-color="#e6c400"/></radialGradient></defs>
<circle cx="10.500" cy="10.500" r="9.300" fill="url(#sm)" stroke="#84700e" stroke-width="1.200"/>
<circle cx="7.200" cy="8.800" r="1.600" fill="#6e5c10"/><circle cx="13.800" cy="8.800" r="1.600" fill="#6e5c10"/>
<path d="M5 12.300H16C15.600 16.200 13.200 17.600 10.500 17.600C7.800 17.600 5.400 16.200 5 12.300Z" fill="#6a560c"/>
<path d="M6.800 15.300C8.500 14.300 12.500 14.300 14.200 15.300C13.300 16.900 11.800 17.400 10.500 17.400C9.200 17.400 7.700 16.900 6.800 15.300Z" fill="#c8a010"/></svg>
<div class="t" style="top:271.00px;font-size:18px;line-height:24px;color:#ae3632;letter-spacing:-0.640px;left:426.20px;-webkit-text-stroke:0.3px #fff;">PERSONALITY</div>
<div class="t" style="top:302.80px;font-size:13px;line-height:19px;color:#2e2e2e;letter-spacing:0.614px;left:431.20px;-webkit-text-stroke:0.3px;">Holzmeister never shows any lack of effort.</div>
<div class="t" style="top:345.30px;font-size:18px;line-height:24px;color:#ae3632;letter-spacing:-0.600px;left:426.20px;-webkit-text-stroke:0.3px #fff;">DEFENSIVE RATINGS</div>
<div class="t" style="top:371.80px;font-size:13px;line-height:19px;color:#2e2e2e;letter-spacing:0.261px;left:431.20px;-webkit-text-stroke:0.3px;">Infield Range</div>
<div class="b" style="left:577.00px;top:372.20px;width:151.00px;height:18.00px;background:#d9d9d9;"></div>
<div class="b" style="left:577.00px;top:373.10px;width:55.55px;height:16.20px;background:#f03c02;"></div>
<div class="b" style="left:577.00px;top:373.10px;width:21.00px;height:16.20px;background:#9a2808;"></div>
<div class="t" style="top:373.20px;font-size:11px;line-height:16.2px;color:#f6f6f6;letter-spacing:0.500px;left:287.75px;width:600px;text-align:center;-webkit-text-stroke:0.3px;">5</div>
<div class="t" style="top:391.80px;font-size:13px;line-height:19px;color:#2e2e2e;letter-spacing:0.331px;left:431.20px;-webkit-text-stroke:0.3px;">Infield Error</div>
<div class="b" style="left:577.00px;top:392.20px;width:151.00px;height:18.00px;background:#d9d9d9;"></div>
<div class="b" style="left:577.00px;top:393.10px;width:49.08px;height:16.20px;background:#ee3a04;"></div>
<div class="b" style="left:577.00px;top:393.10px;width:21.00px;height:16.20px;background:#9a2808;"></div>
<div class="t" style="top:393.20px;font-size:11px;line-height:16.2px;color:#f6f6f6;letter-spacing:0.500px;left:287.75px;width:600px;text-align:center;-webkit-text-stroke:0.3px;">4</div>
<div class="t" style="top:411.80px;font-size:13px;line-height:19px;color:#2e2e2e;letter-spacing:0.553px;left:431.20px;-webkit-text-stroke:0.3px;">Infield Arm</div>
<div class="b" style="left:577.00px;top:412.20px;width:151.00px;height:18.00px;background:#d9d9d9;"></div>
<div class="b" style="left:577.00px;top:413.10px;width:87.90px;height:16.20px;background:#ffdc00;"></div>
<div class="b" style="left:577.00px;top:413.10px;width:21.00px;height:16.20px;background:#9c8200;"></div>
<div class="t" style="top:413.20px;font-size:11px;line-height:16.2px;color:#f6f6f6;letter-spacing:0.500px;left:287.75px;width:600px;text-align:center;-webkit-text-stroke:0.3px;">10</div>
<div class="t" style="top:431.80px;font-size:13px;line-height:19px;color:#2e2e2e;letter-spacing:0.154px;left:431.20px;-webkit-text-stroke:0.3px;">Turn DP</div>
<div class="b" style="left:577.00px;top:432.20px;width:151.00px;height:18.00px;background:#d9d9d9;"></div>
<div class="b" style="left:577.00px;top:433.10px;width:36.14px;height:16.20px;background:#dc0814;"></div>
<div class="b" style="left:577.00px;top:433.10px;width:21.00px;height:16.20px;background:#8c0a0c;"></div>
<div class="t" style="top:433.20px;font-size:11px;line-height:16.2px;color:#f6f6f6;letter-spacing:0.500px;left:287.75px;width:600px;text-align:center;-webkit-text-stroke:0.3px;">2</div>
<div class="t" style="top:471.80px;font-size:13px;line-height:19px;color:#2e2e2e;letter-spacing:0.577px;left:431.20px;-webkit-text-stroke:0.3px;">Pitcher</div>
<div class="b" style="left:577.00px;top:472.20px;width:151.00px;height:18.00px;background:#d9d9d9;"></div>
<div class="b" style="left:577.00px;top:473.10px;width:100.84px;height:16.20px;background:#b2d402;"></div>
<div class="b" style="left:577.00px;top:473.10px;width:21.00px;height:16.20px;background:#6c8a00;"></div>
<div class="t" style="top:473.20px;font-size:11px;line-height:16.2px;color:#f6f6f6;letter-spacing:0.500px;left:287.75px;width:600px;text-align:center;-webkit-text-stroke:0.3px;">12</div>
<div class="t" style="top:271.00px;font-size:18px;line-height:24px;color:#ae3632;letter-spacing:-0.282px;left:753.70px;-webkit-text-stroke:0.3px #fff;">BASIC PITCHING RATINGS</div>
<div class="t" style="top:300.30px;font-size:13px;line-height:19px;color:#2e2e2e;letter-spacing:0.591px;right:333.41px;text-align:right;-webkit-text-stroke:0.3px;">Current / Potential</div>
<div class="t" style="top:300.20px;font-size:13px;line-height:19px;color:#2e2e2e;letter-spacing:1.000px;left:758.70px;-webkit-text-stroke:0.3px;">Stuff</div>
<div class="b" style="left:753.20px;top:321.60px;width:302.00px;height:17.00px;background:#d9d9d9;"></div>
<div class="b" style="left:753.20px;top:322.00px;width:214.00px;height:16.20px;background:#b2d402;"></div>
<div class="b" style="left:753.20px;top:322.00px;width:53.50px;height:16.20px;background:#6c8a00;"></div>
<div class="t" style="top:322.10px;font-size:10.5px;line-height:16.2px;color:#f6f6f6;letter-spacing:1.413px;left:480.66px;width:600px;text-align:center;-webkit-text-stroke:0.3px;">13 / 13</div>
<div class="t" style="top:340.20px;font-size:13px;line-height:19px;color:#2e2e2e;letter-spacing:0.789px;left:758.70px;-webkit-text-stroke:0.3px;">Movement</div>
<div class="b" style="left:753.20px;top:361.60px;width:302.00px;height:17.00px;background:#d9d9d9;"></div>
<div class="b" style="left:753.20px;top:362.00px;width:201.00px;height:16.20px;background:#b2d402;"></div>
<div class="b" style="left:753.20px;top:362.00px;width:53.50px;height:16.20px;background:#6c8a00;"></div>
<div class="t" style="top:362.10px;font-size:10.5px;line-height:16.2px;color:#f6f6f6;letter-spacing:1.413px;left:480.66px;width:600px;text-align:center;-webkit-text-stroke:0.3px;">12 / 12</div>
<div class="t" style="top:380.20px;font-size:13px;line-height:19px;color:#2e2e2e;letter-spacing:0.370px;left:758.70px;-webkit-text-stroke:0.3px;">Control</div>
<div class="b" style="left:753.20px;top:401.60px;width:302.00px;height:17.00px;background:#d9d9d9;"></div>
<div class="b" style="left:753.20px;top:402.00px;width:188.00px;height:16.20px;background:#ffdc00;"></div>
<div class="b" style="left:753.20px;top:402.00px;width:53.50px;height:16.20px;background:#9c8200;"></div>
<div class="t" style="top:402.10px;font-size:10.5px;line-height:16.2px;color:#f6f6f6;letter-spacing:1.635px;left:480.77px;width:600px;text-align:center;-webkit-text-stroke:0.3px;">11 / 11</div>
<div class="t" style="top:428.20px;font-size:13px;line-height:19px;color:#2e2e2e;letter-spacing:0.435px;left:758.70px;-webkit-text-stroke:0.3px;">Fastball</div>
<div class="b" style="left:753.20px;top:449.60px;width:302.00px;height:17.00px;background:#d9d9d9;"></div>
<div class="b" style="left:753.20px;top:450.00px;width:214.00px;height:16.20px;background:#b2d402;"></div>
<div class="b" style="left:753.20px;top:450.00px;width:53.50px;height:16.20px;background:#6c8a00;"></div>
<div class="t" style="top:450.10px;font-size:10.5px;line-height:16.2px;color:#f6f6f6;letter-spacing:1.413px;left:480.66px;width:600px;text-align:center;-webkit-text-stroke:0.3px;">13 / 13</div>
<div class="t" style="top:468.20px;font-size:13px;line-height:19px;color:#2e2e2e;letter-spacing:0.275px;left:758.70px;-webkit-text-stroke:0.3px;">Sinker</div>
<div class="b" style="left:753.20px;top:489.60px;width:302.00px;height:17.00px;background:#d9d9d9;"></div>
<div class="b" style="left:753.20px;top:490.00px;width:227.00px;height:16.20px;background:#50cc0a;"></div>
<div class="b" style="left:753.20px;top:490.00px;width:53.50px;height:16.20px;background:#2e8a0a;"></div>
<div class="t" style="top:490.10px;font-size:10.5px;line-height:16.2px;color:#f6f6f6;letter-spacing:1.413px;left:480.66px;width:600px;text-align:center;-webkit-text-stroke:0.3px;">14 / 14</div>
<div class="t" style="top:508.20px;font-size:13px;line-height:19px;color:#2e2e2e;letter-spacing:0.187px;left:758.70px;-webkit-text-stroke:0.3px;">Changeup</div>
<div class="b" style="left:753.20px;top:529.60px;width:302.00px;height:17.00px;background:#d9d9d9;"></div>
<div class="b" style="left:753.20px;top:530.00px;width:71.00px;height:16.20px;background:#dc0814;"></div>
<div class="b" style="left:753.20px;top:530.00px;width:53.50px;height:16.20px;background:#8c0a0c;"></div>
<div class="t" style="top:530.10px;font-size:10.5px;line-height:16.2px;color:#f6f6f6;letter-spacing:1.514px;left:480.71px;width:600px;text-align:center;-webkit-text-stroke:0.3px;">2 / 2</div>
<div class="b" style="left:753.20px;top:426.40px;width:302.00px;height:2.00px;background:#ebebeb;"></div>
<div class="t" style="top:271.00px;font-size:18px;line-height:24px;color:#ae3632;letter-spacing:-0.413px;left:1081.20px;-webkit-text-stroke:0.3px #fff;">OTHER RATINGS</div>
<div class="t" style="top:301.80px;font-size:13px;line-height:19px;color:#2e2e2e;letter-spacing:0.452px;left:1086.20px;-webkit-text-stroke:0.3px;">Overall Rating</div>
<div class="t" style="top:324.10px;font-size:13px;line-height:19px;color:#2e2e2e;letter-spacing:0.482px;left:1086.20px;-webkit-text-stroke:0.3px;">Potential Rating</div>
<div class="t" style="top:365.00px;font-size:13px;line-height:19px;color:#2e2e2e;letter-spacing:0.504px;left:1086.20px;-webkit-text-stroke:0.3px;">Type</div>
<div class="t" style="top:385.00px;font-size:13px;line-height:19px;color:#2e2e2e;letter-spacing:0.650px;left:1086.20px;-webkit-text-stroke:0.3px;">Velocity</div>
<div class="t" style="top:365.00px;font-size:13px;line-height:19px;color:#2e2e2e;letter-spacing:0.388px;right:7.01px;text-align:right;-webkit-text-stroke:0.3px;">Groundball Tendency</div>
<div class="t" style="top:385.00px;font-size:13px;line-height:19px;color:#2e2e2e;letter-spacing:0.505px;right:6.49px;text-align:right;-webkit-text-stroke:0.3px;">92-94 Mph</div>
<div class="t" style="top:425.00px;font-size:13px;line-height:19px;color:#2e2e2e;letter-spacing:0.359px;left:1086.20px;-webkit-text-stroke:0.3px;">Projected Role in ABL</div>
<div class="t" style="top:445.00px;font-size:13px;line-height:19px;color:#2e2e2e;letter-spacing:0.255px;right:125.25px;text-align:right;-webkit-text-stroke:0.3px;">Current:</div>
<div class="t" style="top:465.00px;font-size:13px;line-height:19px;color:#2e2e2e;letter-spacing:0.259px;right:125.24px;text-align:right;-webkit-text-stroke:0.3px;">Future:</div>
<div class="t" style="top:445.00px;font-size:13px;line-height:19px;color:#2e2e2e;letter-spacing:0.376px;left:1272.30px;-webkit-text-stroke:0.3px;">Bullpen</div>
<div class="t" style="top:465.00px;font-size:13px;line-height:19px;color:#2e2e2e;letter-spacing:0.376px;left:1272.30px;-webkit-text-stroke:0.3px;">Bullpen</div>
<div class="b" style="left:1271.00px;top:427.00px;width:111.50px;height:16.80px;background:#fff;border:1px solid #9a9a9a;border-radius:2px;box-sizing:border-box;"></div>
<div class="b" style="left:1358.00px;top:427.50px;width:24.00px;height:15.80px;background:#b4b4b4;border-radius:0 2px 2px 0;"></div>
<div class="t" style="top:425.60px;font-size:14px;line-height:20px;color:#222;letter-spacing:-0.076px;left:1279.50px;-webkit-text-stroke:0.25px;">ABL (ML)</div>
<svg style="left:1358px;top:427px" width="24" height="17" viewBox="0 0 24 17"><path d="M4.500 5.500L12 12L19.500 5.500" fill="none" stroke="#fff" stroke-width="1.500"/></svg>
<svg style="left:1254.800px;top:301.900px" width="100" height="42" viewBox="0 0 100 42"><defs><linearGradient id="gy" x1="0" y1="0" x2="0" y2="1"><stop offset="0" stop-color="#ffe030"/><stop offset="0.5" stop-color="#fdd000"/><stop offset="1" stop-color="#f2b400"/></linearGradient><linearGradient id="gg" x1="0" y1="0" x2="0" y2="1"><stop offset="0" stop-color="#b5b5b5"/><stop offset="0.55" stop-color="#8c8c8c"/><stop offset="1" stop-color="#707070"/></linearGradient><clipPath id="half"><rect x="-1" y="-1" width="9.700" height="20"/></clipPath></defs><path transform="translate(0.0 0.500)" d="M8.75 1.30L11.28 5.82L16.36 6.83L12.84 10.63L13.45 15.77L8.75 13.60L4.05 15.77L4.66 10.63L1.14 6.83L6.22 5.82Z" fill="url(#gy)" stroke="#c9a618" stroke-width="1.500" stroke-linejoin="round"/><path transform="translate(0.0 23)" d="M8.75 1.30L11.28 5.82L16.36 6.83L12.84 10.63L13.45 15.77L8.75 13.60L4.05 15.77L4.66 10.63L1.14 6.83L6.22 5.82Z" fill="url(#gg)" stroke="#8e8e8e" stroke-width="1.500" stroke-linejoin="round"/><path transform="translate(21.5 0.500)" d="M8.75 1.30L11.28 5.82L16.36 6.83L12.84 10.63L13.45 15.77L8.75 13.60L4.05 15.77L4.66 10.63L1.14 6.83L6.22 5.82Z" fill="url(#gy)" stroke="#c9a618" stroke-width="1.500" stroke-linejoin="round"/><path transform="translate(21.5 23)" d="M8.75 1.30L11.28 5.82L16.36 6.83L12.84 10.63L13.45 15.77L8.75 13.60L4.05 15.77L4.66 10.63L1.14 6.83L6.22 5.82Z" fill="url(#gg)" stroke="#8e8e8e" stroke-width="1.500" stroke-linejoin="round"/><path transform="translate(43.0 0.500)" d="M8.75 1.30L11.28 5.82L16.36 6.83L12.84 10.63L13.45 15.77L8.75 13.60L4.05 15.77L4.66 10.63L1.14 6.83L6.22 5.82Z" fill="url(#gy)" stroke="#c9a618" stroke-width="1.500" stroke-linejoin="round"/><path transform="translate(43.0 23)" d="M8.75 1.30L11.28 5.82L16.36 6.83L12.84 10.63L13.45 15.77L8.75 13.60L4.05 15.77L4.66 10.63L1.14 6.83L6.22 5.82Z" fill="url(#gg)" stroke="#8e8e8e" stroke-width="1.500" stroke-linejoin="round"/><path transform="translate(64.5 0.500)" d="M8.75 1.30L11.28 5.82L16.36 6.83L12.84 10.63L13.45 15.77L8.75 13.60L4.05 15.77L4.66 10.63L1.14 6.83L6.22 5.82Z" fill="#f1ecd2" stroke="#ebe4c4" stroke-width="1.500" stroke-linejoin="round"/><g transform="translate(64.5 0.500)"><path clip-path="url(#half)" d="M8.75 1.30L11.28 5.82L16.36 6.83L12.84 10.63L13.45 15.77L8.75 13.60L4.05 15.77L4.66 10.63L1.14 6.83L6.22 5.82Z" fill="url(#gy)" stroke="#c9a618" stroke-width="1.500" stroke-linejoin="round"/></g><path transform="translate(64.5 23)" d="M8.75 1.30L11.28 5.82L16.36 6.83L12.84 10.63L13.45 15.77L8.75 13.60L4.05 15.77L4.66 10.63L1.14 6.83L6.22 5.82Z" fill="url(#gg)" stroke="#8e8e8e" stroke-width="1.500" stroke-linejoin="round"/></svg>
<div class="t" style="top:505.20px;font-size:13px;line-height:19px;color:#2e2e2e;letter-spacing:0.615px;left:1086.20px;-webkit-text-stroke:0.3px;">Stamina</div>
<div class="b" style="left:1232.00px;top:506.00px;width:151.00px;height:18.00px;background:#d9d9d9;"></div>
<div class="b" style="left:1232.00px;top:506.90px;width:55.55px;height:16.20px;background:#f03c02;"></div>
<div class="b" style="left:1232.00px;top:506.90px;width:21.00px;height:16.20px;background:#9a2808;"></div>
<div class="t" style="top:507.00px;font-size:11px;line-height:16.2px;color:#f6f6f6;letter-spacing:0.500px;left:942.75px;width:600px;text-align:center;-webkit-text-stroke:0.3px;">5</div>
<div class="t" style="top:525.20px;font-size:13px;line-height:19px;color:#2e2e2e;letter-spacing:0.293px;left:1086.20px;-webkit-text-stroke:0.3px;">Hold Runners</div>
<div class="b" style="left:1232.00px;top:526.00px;width:151.00px;height:18.00px;background:#d9d9d9;"></div>
<div class="b" style="left:1232.00px;top:526.90px;width:133.19px;height:16.20px;background:#08c8a0;"></div>
<div class="b" style="left:1232.00px;top:526.90px;width:21.00px;height:16.20px;background:#0c8468;"></div>
<div class="t" style="top:527.00px;font-size:11px;line-height:16.2px;color:#f6f6f6;letter-spacing:0.500px;left:942.75px;width:600px;text-align:center;-webkit-text-stroke:0.3px;">17</div>
<div class="t" style="top:545.20px;font-size:13px;line-height:19px;color:#2e2e2e;letter-spacing:0.557px;left:1086.20px;-webkit-text-stroke:0.3px;">Sacrifice Bunt</div>
<div class="b" style="left:1232.00px;top:546.00px;width:151.00px;height:18.00px;background:#d9d9d9;"></div>
<div class="b" style="left:1232.00px;top:546.90px;width:139.66px;height:16.20px;background:#08a4c8;"></div>
<div class="b" style="left:1232.00px;top:546.90px;width:21.00px;height:16.20px;background:#0a6a88;"></div>
<div class="t" style="top:547.00px;font-size:11px;line-height:16.2px;color:#f6f6f6;letter-spacing:0.500px;left:942.75px;width:600px;text-align:center;-webkit-text-stroke:0.3px;">18</div>
<div class="t" style="top:565.20px;font-size:13px;line-height:19px;color:#2e2e2e;letter-spacing:0.581px;left:1086.20px;-webkit-text-stroke:0.3px;">Bunt for Hit</div>
<div class="b" style="left:1232.00px;top:566.00px;width:151.00px;height:18.00px;background:#d9d9d9;"></div>
<div class="b" style="left:1232.00px;top:566.90px;width:21.00px;height:16.20px;background:#d2060e;"></div>
<div class="b" style="left:1232.00px;top:566.90px;width:21.00px;height:16.20px;background:#7d0a0a;"></div>
<div class="t" style="top:567.00px;font-size:11px;line-height:16.2px;color:#f6f6f6;letter-spacing:0.500px;left:942.75px;width:600px;text-align:center;-webkit-text-stroke:0.3px;">1</div>
<div class="t" style="top:614.00px;font-size:18px;line-height:24px;color:#ae3632;letter-spacing:-0.056px;left:12.50px;-webkit-text-stroke:0.3px #fff;">STATUS</div>
<div class="t" style="top:613.80px;font-size:13px;line-height:19px;color:#1b79c4;font-weight:bold;letter-spacing:0.027px;left:236.20px;">Show Popularity &amp; Morale</div>
<div class="b" style="left:12.00px;top:643.25px;width:391.00px;height:21.20px;background:#f2f2f2;"></div>
<div class="b" style="left:12.00px;top:685.75px;width:391.00px;height:21.20px;background:#f2f2f2;"></div>
<div class="b" style="left:12.00px;top:728.25px;width:391.00px;height:21.20px;background:#f2f2f2;"></div>
<div class="b" style="left:12.00px;top:770.75px;width:391.00px;height:21.20px;background:#f2f2f2;"></div>
<div class="b" style="left:12.00px;top:813.25px;width:391.00px;height:21.20px;background:#f2f2f2;"></div>
<div class="b" style="left:12.00px;top:855.75px;width:391.00px;height:21.20px;background:#f2f2f2;"></div>
<div class="t" style="top:644.10px;font-size:13px;line-height:19px;color:#2e2e2e;letter-spacing:0.573px;left:17.00px;-webkit-text-stroke:0.3px;">Health Status</div>
<div class="t" style="top:644.10px;font-size:13px;line-height:19px;color:#3cae49;font-weight:bold;letter-spacing:-0.500px;left:139.50px;">OK</div>
<div class="t" style="top:665.35px;font-size:13px;line-height:19px;color:#2e2e2e;letter-spacing:0.582px;left:17.00px;-webkit-text-stroke:0.3px;">Injury History</div>
<div class="t" style="top:665.35px;font-size:13px;line-height:19px;color:#2e2e2e;letter-spacing:0.601px;left:139.50px;-webkit-text-stroke:0.3px;">Normal</div>
<div class="t" style="top:686.60px;font-size:13px;line-height:19px;color:#2e2e2e;letter-spacing:0.482px;left:17.00px;-webkit-text-stroke:0.3px;">Rest Status</div>
<div class="t" style="top:686.60px;font-size:13px;line-height:19px;color:#2b95c8;font-weight:bold;letter-spacing:0.142px;left:139.50px;">100% - Rested</div>
<div class="t" style="top:707.85px;font-size:13px;line-height:19px;color:#2e2e2e;letter-spacing:0.638px;left:17.00px;-webkit-text-stroke:0.3px;">Pitches Today</div>
<div class="t" style="top:707.85px;font-size:13px;line-height:19px;color:#2e2e2e;letter-spacing:0.320px;left:139.50px;-webkit-text-stroke:0.3px;">0</div>
<div class="t" style="top:729.10px;font-size:13px;line-height:19px;color:#2e2e2e;letter-spacing:0.627px;left:17.00px;-webkit-text-stroke:0.3px;">Pitches Yesterday</div>
<div class="t" style="top:729.10px;font-size:13px;line-height:19px;color:#2e2e2e;letter-spacing:0.320px;left:139.50px;-webkit-text-stroke:0.3px;">0</div>
<div class="t" style="top:750.35px;font-size:13px;line-height:19px;color:#2e2e2e;letter-spacing:0.274px;left:17.00px;-webkit-text-stroke:0.3px;">2 Days ago</div>
<div class="t" style="top:750.35px;font-size:13px;line-height:19px;color:#2e2e2e;letter-spacing:0.320px;left:139.50px;-webkit-text-stroke:0.3px;">0</div>
<div class="t" style="top:771.60px;font-size:13px;line-height:19px;color:#2e2e2e;letter-spacing:0.274px;left:17.00px;-webkit-text-stroke:0.3px;">3 Days ago</div>
<div class="t" style="top:771.60px;font-size:13px;line-height:19px;color:#2e2e2e;letter-spacing:0.320px;left:139.50px;-webkit-text-stroke:0.3px;">0</div>
<div class="t" style="top:792.85px;font-size:13px;line-height:19px;color:#2e2e2e;letter-spacing:0.274px;left:17.00px;-webkit-text-stroke:0.3px;">4 Days ago</div>
<div class="t" style="top:792.85px;font-size:13px;line-height:19px;color:#2e2e2e;letter-spacing:0.320px;left:139.50px;-webkit-text-stroke:0.3px;">0</div>
<div class="t" style="top:814.10px;font-size:13px;line-height:19px;color:#2e2e2e;letter-spacing:0.274px;left:17.00px;-webkit-text-stroke:0.3px;">5 Days ago</div>
<div class="t" style="top:814.10px;font-size:13px;line-height:19px;color:#2e2e2e;letter-spacing:0.320px;left:139.50px;-webkit-text-stroke:0.3px;">0</div>
<div class="b" style="left:538.00px;top:616.30px;width:845.00px;height:19.40px;background:#999999;"></div>
<div class="b" style="left:425.50px;top:695.70px;width:957.50px;height:19.80px;background:#999999;"></div>
<div class="b" style="left:425.50px;top:636.20px;width:957.50px;height:19.40px;background:#f2f2f2;"></div>
<div class="b" style="left:425.50px;top:675.60px;width:957.50px;height:19.40px;background:#f2f2f2;"></div>
<div class="b" style="left:425.50px;top:715.50px;width:957.50px;height:20.00px;background:#f2f2f2;"></div>
<div class="b" style="left:425.50px;top:755.50px;width:957.50px;height:20.00px;background:#f2f2f2;"></div>
<div class="b" style="left:425.50px;top:795.50px;width:957.50px;height:20.00px;background:#f2f2f2;"></div>
<div class="b" style="left:425.50px;top:835.50px;width:957.50px;height:20.00px;background:#f2f2f2;"></div>
<div class="b" style="left:425.50px;top:875.50px;width:957.50px;height:20.00px;background:#f2f2f2;"></div>
<div class="b" style="left:427.00px;top:617.50px;width:110.00px;height:16.80px;background:#fff;border:1px solid #9a9a9a;border-radius:2px;box-sizing:border-box;"></div>
<div class="b" style="left:512.00px;top:618.00px;width:25.00px;height:15.80px;background:#b4b4b4;border-radius:0 2px 2px 0;"></div>
<div class="t" style="top:616.20px;font-size:14px;line-height:20px;color:#222;letter-spacing:0.044px;left:436.20px;-webkit-text-stroke:0.25px;">Splits</div>
<svg style="left:512px;top:617.5px" width="25" height="17" viewBox="0 0 25 17"><path d="M5 5.500L12.500 12L20 5.500" fill="none" stroke="#fff" stroke-width="1.500"/></svg>
<div class="t" style="top:616.60px;font-size:13.2px;line-height:19.2px;color:#f4f4f4;letter-spacing:0.100px;left:262.05px;width:600px;text-align:center;-webkit-text-stroke:0.3px;">Team</div>
<div class="b" style="left:593.5px;top:616.2px;width:40px;height:20px;overflow:hidden"><div class="t" style="left:-10px;width:60.3px;text-align:center;top:0;font-size:13.2px;line-height:20px;color:#f4f4f4;letter-spacing:0.5px;-webkit-text-stroke:0.3px">League</div></div>
<div class="t" style="top:616.60px;font-size:13.2px;line-height:19.2px;color:#f4f4f4;letter-spacing:0.100px;right:721.90px;text-align:right;-webkit-text-stroke:0.3px;">W</div>
<div class="t" style="top:616.60px;font-size:13.2px;line-height:19.2px;color:#f4f4f4;letter-spacing:0.100px;right:691.40px;text-align:right;-webkit-text-stroke:0.3px;">L</div>
<div class="t" style="top:616.60px;font-size:13.2px;line-height:19.2px;color:#f4f4f4;letter-spacing:0.100px;right:661.40px;text-align:right;-webkit-text-stroke:0.3px;">SV</div>
<div class="t" style="top:616.60px;font-size:13.2px;line-height:19.2px;color:#f4f4f4;letter-spacing:0.100px;right:617.50px;text-align:right;-webkit-text-stroke:0.3px;">ERA</div>
<div class="t" style="top:616.60px;font-size:13.2px;line-height:19.2px;color:#f4f4f4;letter-spacing:0.100px;right:582.20px;text-align:right;-webkit-text-stroke:0.3px;">G</div>
<div class="t" style="top:616.60px;font-size:13.2px;line-height:19.2px;color:#f4f4f4;letter-spacing:0.100px;right:547.60px;text-align:right;-webkit-text-stroke:0.3px;">GS</div>
<div class="t" style="top:616.60px;font-size:13.2px;line-height:19.2px;color:#f4f4f4;letter-spacing:0.100px;right:498.10px;text-align:right;-webkit-text-stroke:0.3px;">IP</div>
<div class="t" style="top:616.60px;font-size:13.2px;line-height:19.2px;color:#f4f4f4;letter-spacing:0.100px;right:463.60px;text-align:right;-webkit-text-stroke:0.3px;">HA</div>
<div class="t" style="top:616.60px;font-size:13.2px;line-height:19.2px;color:#f4f4f4;letter-spacing:0.100px;right:429.90px;text-align:right;-webkit-text-stroke:0.3px;">ER</div>
<div class="t" style="top:616.60px;font-size:13.2px;line-height:19.2px;color:#f4f4f4;letter-spacing:0.100px;right:394.00px;text-align:right;-webkit-text-stroke:0.3px;">HR</div>
<div class="t" style="top:616.60px;font-size:13.2px;line-height:19.2px;color:#f4f4f4;letter-spacing:0.100px;right:358.90px;text-align:right;-webkit-text-stroke:0.3px;">BB</div>
<div class="t" style="top:616.60px;font-size:13.2px;line-height:19.2px;color:#f4f4f4;letter-spacing:0.100px;right:323.40px;text-align:right;-webkit-text-stroke:0.3px;">K</div>
<div class="t" style="top:616.60px;font-size:13.2px;line-height:19.2px;color:#f4f4f4;letter-spacing:0.100px;right:280.10px;text-align:right;-webkit-text-stroke:0.3px;">WHIP</div>
<div class="t" style="top:616.60px;font-size:13.2px;line-height:19.2px;color:#f4f4f4;letter-spacing:0.100px;right:235.90px;text-align:right;-webkit-text-stroke:0.3px;">HR/9</div>
<div class="t" style="top:616.60px;font-size:13.2px;line-height:19.2px;color:#f4f4f4;letter-spacing:0.100px;right:192.20px;text-align:right;-webkit-text-stroke:0.3px;">BB/9</div>
<div class="t" style="top:616.60px;font-size:13.2px;line-height:19.2px;color:#f4f4f4;letter-spacing:0.100px;right:149.20px;text-align:right;-webkit-text-stroke:0.3px;">K/9</div>
<div class="t" style="top:616.60px;font-size:13.2px;line-height:19.2px;color:#f4f4f4;letter-spacing:0.100px;right:96.50px;text-align:right;-webkit-text-stroke:0.3px;">BABIP</div>
<div class="t" style="top:616.60px;font-size:13.2px;line-height:19.2px;color:#f4f4f4;letter-spacing:0.100px;right:52.50px;text-align:right;-webkit-text-stroke:0.3px;">ERA+</div>
<div class="t" style="top:616.60px;font-size:13.2px;line-height:19.2px;color:#f4f4f4;letter-spacing:0.100px;right:7.70px;text-align:right;-webkit-text-stroke:0.3px;">WAR</div>
<div class="t" style="top:696.20px;font-size:13.2px;line-height:19.2px;color:#f4f4f4;letter-spacing:0.100px;left:182.55px;width:600px;text-align:center;-webkit-text-stroke:0.3px;">Past Yrs.</div>
<div class="t" style="top:696.20px;font-size:13.2px;line-height:19.2px;color:#f4f4f4;letter-spacing:0.100px;left:262.05px;width:600px;text-align:center;-webkit-text-stroke:0.3px;">Team</div>
<div class="b" style="left:593.5px;top:695.8px;width:40px;height:20px;overflow:hidden"><div class="t" style="left:-10px;width:60.3px;text-align:center;top:0;font-size:13.2px;line-height:20px;color:#f4f4f4;letter-spacing:0.5px;-webkit-text-stroke:0.3px">League</div></div>
<div class="t" style="top:696.20px;font-size:13.2px;line-height:19.2px;color:#f4f4f4;letter-spacing:0.100px;right:721.90px;text-align:right;-webkit-text-stroke:0.3px;">W</div>
<div class="t" style="top:696.20px;font-size:13.2px;line-height:19.2px;color:#f4f4f4;letter-spacing:0.100px;right:691.40px;text-align:right;-webkit-text-stroke:0.3px;">L</div>
<div class="t" style="top:696.20px;font-size:13.2px;line-height:19.2px;color:#f4f4f4;letter-spacing:0.100px;right:661.40px;text-align:right;-webkit-text-stroke:0.3px;">SV</div>
<div class="t" style="top:696.20px;font-size:13.2px;line-height:19.2px;color:#f4f4f4;letter-spacing:0.100px;right:617.50px;text-align:right;-webkit-text-stroke:0.3px;">ERA</div>
<div class="t" style="top:696.20px;font-size:13.2px;line-height:19.2px;color:#f4f4f4;letter-spacing:0.100px;right:582.20px;text-align:right;-webkit-text-stroke:0.3px;">G</div>
<div class="t" style="top:696.20px;font-size:13.2px;line-height:19.2px;color:#f4f4f4;letter-spacing:0.100px;right:547.60px;text-align:right;-webkit-text-stroke:0.3px;">GS</div>
<div class="t" style="top:696.20px;font-size:13.2px;line-height:19.2px;color:#f4f4f4;letter-spacing:0.100px;right:498.10px;text-align:right;-webkit-text-stroke:0.3px;">IP</div>
<div class="t" style="top:696.20px;font-size:13.2px;line-height:19.2px;color:#f4f4f4;letter-spacing:0.100px;right:463.60px;text-align:right;-webkit-text-stroke:0.3px;">HA</div>
<div class="t" style="top:696.20px;font-size:13.2px;line-height:19.2px;color:#f4f4f4;letter-spacing:0.100px;right:429.90px;text-align:right;-webkit-text-stroke:0.3px;">ER</div>
<div class="t" style="top:696.20px;font-size:13.2px;line-height:19.2px;color:#f4f4f4;letter-spacing:0.100px;right:394.00px;text-align:right;-webkit-text-stroke:0.3px;">HR</div>
<div class="t" style="top:696.20px;font-size:13.2px;line-height:19.2px;color:#f4f4f4;letter-spacing:0.100px;right:358.90px;text-align:right;-webkit-text-stroke:0.3px;">BB</div>
<div class="t" style="top:696.20px;font-size:13.2px;line-height:19.2px;color:#f4f4f4;letter-spacing:0.100px;right:323.40px;text-align:right;-webkit-text-stroke:0.3px;">K</div>
<div class="t" style="top:696.20px;font-size:13.2px;line-height:19.2px;color:#f4f4f4;letter-spacing:0.100px;right:280.10px;text-align:right;-webkit-text-stroke:0.3px;">WHIP</div>
<div class="t" style="top:696.20px;font-size:13.2px;line-height:19.2px;color:#f4f4f4;letter-spacing:0.100px;right:235.90px;text-align:right;-webkit-text-stroke:0.3px;">HR/9</div>
<div class="t" style="top:696.20px;font-size:13.2px;line-height:19.2px;color:#f4f4f4;letter-spacing:0.100px;right:192.20px;text-align:right;-webkit-text-stroke:0.3px;">BB/9</div>
<div class="t" style="top:696.20px;font-size:13.2px;line-height:19.2px;color:#f4f4f4;letter-spacing:0.100px;right:149.20px;text-align:right;-webkit-text-stroke:0.3px;">K/9</div>
<div class="t" style="top:696.20px;font-size:13.2px;line-height:19.2px;color:#f4f4f4;letter-spacing:0.100px;right:96.50px;text-align:right;-webkit-text-stroke:0.3px;">BABIP</div>
<div class="t" style="top:696.20px;font-size:13.2px;line-height:19.2px;color:#f4f4f4;letter-spacing:0.100px;right:52.50px;text-align:right;-webkit-text-stroke:0.3px;">ERA+</div>
<div class="t" style="top:696.20px;font-size:13.2px;line-height:19.2px;color:#f4f4f4;letter-spacing:0.100px;right:7.70px;text-align:right;-webkit-text-stroke:0.3px;">WAR</div>
<div class="t" style="top:635.40px;font-size:13px;line-height:19px;color:#303030;letter-spacing:0.300px;left:182.65px;width:600px;text-align:center;-webkit-text-stroke:0.3px;">2066</div>
<div class="t" style="top:635.40px;font-size:13px;line-height:19px;color:#303030;letter-spacing:0.300px;left:262.15px;width:600px;text-align:center;-webkit-text-stroke:0.3px;">WAT</div>
<div class="t" style="top:635.40px;font-size:13px;line-height:19px;color:#303030;letter-spacing:0.300px;left:312.65px;width:600px;text-align:center;-webkit-text-stroke:0.3px;">AA</div>
<div class="t" style="top:635.40px;font-size:13px;line-height:19px;color:#303030;letter-spacing:0.300px;right:721.70px;text-align:right;-webkit-text-stroke:0.3px;">1</div>
<div class="t" style="top:635.40px;font-size:13px;line-height:19px;color:#303030;letter-spacing:0.300px;right:691.20px;text-align:right;-webkit-text-stroke:0.3px;">0</div>
<div class="t" style="top:635.40px;font-size:13px;line-height:19px;color:#303030;letter-spacing:0.300px;right:661.20px;text-align:right;-webkit-text-stroke:0.3px;">11</div>
<div class="t" style="top:635.40px;font-size:13px;line-height:19px;color:#303030;letter-spacing:0.300px;right:617.30px;text-align:right;-webkit-text-stroke:0.3px;">0.39</div>
<div class="t" style="top:635.40px;font-size:13px;line-height:19px;color:#303030;letter-spacing:0.300px;right:582.00px;text-align:right;-webkit-text-stroke:0.3px;">20</div>
<div class="t" style="top:635.40px;font-size:13px;line-height:19px;color:#303030;letter-spacing:0.300px;right:547.40px;text-align:right;-webkit-text-stroke:0.3px;">0</div>
<div class="t" style="top:635.40px;font-size:13px;line-height:19px;color:#303030;letter-spacing:0.300px;right:497.90px;text-align:right;-webkit-text-stroke:0.3px;">23.0</div>
<div class="t" style="top:635.40px;font-size:13px;line-height:19px;color:#303030;letter-spacing:0.300px;right:463.40px;text-align:right;-webkit-text-stroke:0.3px;">9</div>
<div class="t" style="top:635.40px;font-size:13px;line-height:19px;color:#303030;letter-spacing:0.300px;right:429.70px;text-align:right;-webkit-text-stroke:0.3px;">1</div>
<div class="t" style="top:635.40px;font-size:13px;line-height:19px;color:#303030;letter-spacing:0.300px;right:393.80px;text-align:right;-webkit-text-stroke:0.3px;">1</div>
<div class="t" style="top:635.40px;font-size:13px;line-height:19px;color:#303030;letter-spacing:0.300px;right:358.70px;text-align:right;-webkit-text-stroke:0.3px;">7</div>
<div class="t" style="top:635.40px;font-size:13px;line-height:19px;color:#303030;letter-spacing:0.300px;right:323.20px;text-align:right;-webkit-text-stroke:0.3px;">20</div>
<div class="t" style="top:635.40px;font-size:13px;line-height:19px;color:#303030;letter-spacing:0.300px;right:279.90px;text-align:right;-webkit-text-stroke:0.3px;">0.70</div>
<div class="t" style="top:635.40px;font-size:13px;line-height:19px;color:#303030;letter-spacing:0.300px;right:235.70px;text-align:right;-webkit-text-stroke:0.3px;">0.4</div>
<div class="t" style="top:635.40px;font-size:13px;line-height:19px;color:#303030;letter-spacing:0.300px;right:192.00px;text-align:right;-webkit-text-stroke:0.3px;">2.7</div>
<div class="t" style="top:635.40px;font-size:13px;line-height:19px;color:#303030;letter-spacing:0.300px;right:149.00px;text-align:right;-webkit-text-stroke:0.3px;">7.8</div>
<div class="t" style="top:635.40px;font-size:13px;line-height:19px;color:#303030;letter-spacing:0.300px;right:96.30px;text-align:right;-webkit-text-stroke:0.3px;">.145</div>
<div class="t" style="top:635.40px;font-size:13px;line-height:19px;color:#303030;letter-spacing:0.300px;right:52.30px;text-align:right;-webkit-text-stroke:0.3px;">1003</div>
<div class="t" style="top:635.40px;font-size:13px;line-height:19px;color:#303030;letter-spacing:0.300px;right:7.50px;text-align:right;-webkit-text-stroke:0.3px;">0.4</div>
<div class="t" style="top:655.40px;font-size:13px;line-height:19px;color:#303030;letter-spacing:0.300px;left:182.65px;width:600px;text-align:center;-webkit-text-stroke:0.3px;">2066</div>
<div class="t" style="top:655.40px;font-size:13px;line-height:19px;color:#303030;letter-spacing:0.300px;left:262.15px;width:600px;text-align:center;-webkit-text-stroke:0.3px;">BR</div>
<div class="t" style="top:655.40px;font-size:13px;line-height:19px;color:#303030;letter-spacing:0.300px;left:312.65px;width:600px;text-align:center;-webkit-text-stroke:0.3px;">AAA</div>
<div class="t" style="top:655.40px;font-size:13px;line-height:19px;color:#303030;letter-spacing:0.300px;right:721.70px;text-align:right;-webkit-text-stroke:0.3px;">0</div>
<div class="t" style="top:655.40px;font-size:13px;line-height:19px;color:#303030;letter-spacing:0.300px;right:691.20px;text-align:right;-webkit-text-stroke:0.3px;">0</div>
<div class="t" style="top:655.40px;font-size:13px;line-height:19px;color:#303030;letter-spacing:0.300px;right:661.20px;text-align:right;-webkit-text-stroke:0.3px;">3</div>
<div class="t" style="top:655.40px;font-size:13px;line-height:19px;color:#303030;letter-spacing:0.300px;right:617.30px;text-align:right;-webkit-text-stroke:0.3px;">3.68</div>
<div class="t" style="top:655.40px;font-size:13px;line-height:19px;color:#303030;letter-spacing:0.300px;right:582.00px;text-align:right;-webkit-text-stroke:0.3px;">9</div>
<div class="t" style="top:655.40px;font-size:13px;line-height:19px;color:#303030;letter-spacing:0.300px;right:547.40px;text-align:right;-webkit-text-stroke:0.3px;">0</div>
<div class="t" style="top:655.40px;font-size:13px;line-height:19px;color:#303030;letter-spacing:0.300px;right:497.90px;text-align:right;-webkit-text-stroke:0.3px;">7.1</div>
<div class="t" style="top:655.40px;font-size:13px;line-height:19px;color:#303030;letter-spacing:0.300px;right:463.40px;text-align:right;-webkit-text-stroke:0.3px;">9</div>
<div class="t" style="top:655.40px;font-size:13px;line-height:19px;color:#303030;letter-spacing:0.300px;right:429.70px;text-align:right;-webkit-text-stroke:0.3px;">3</div>
<div class="t" style="top:655.40px;font-size:13px;line-height:19px;color:#303030;letter-spacing:0.300px;right:393.80px;text-align:right;-webkit-text-stroke:0.3px;">1</div>
<div class="t" style="top:655.40px;font-size:13px;line-height:19px;color:#303030;letter-spacing:0.300px;right:358.70px;text-align:right;-webkit-text-stroke:0.3px;">2</div>
<div class="t" style="top:655.40px;font-size:13px;line-height:19px;color:#303030;letter-spacing:0.300px;right:323.20px;text-align:right;-webkit-text-stroke:0.3px;">2</div>
<div class="t" style="top:655.40px;font-size:13px;line-height:19px;color:#303030;letter-spacing:0.300px;right:279.90px;text-align:right;-webkit-text-stroke:0.3px;">1.50</div>
<div class="t" style="top:655.40px;font-size:13px;line-height:19px;color:#303030;letter-spacing:0.300px;right:235.70px;text-align:right;-webkit-text-stroke:0.3px;">1.2</div>
<div class="t" style="top:655.40px;font-size:13px;line-height:19px;color:#303030;letter-spacing:0.300px;right:192.00px;text-align:right;-webkit-text-stroke:0.3px;">2.5</div>
<div class="t" style="top:655.40px;font-size:13px;line-height:19px;color:#303030;letter-spacing:0.300px;right:149.00px;text-align:right;-webkit-text-stroke:0.3px;">2.5</div>
<div class="t" style="top:655.40px;font-size:13px;line-height:19px;color:#303030;letter-spacing:0.300px;right:96.30px;text-align:right;-webkit-text-stroke:0.3px;">.333</div>
<div class="t" style="top:655.40px;font-size:13px;line-height:19px;color:#303030;letter-spacing:0.300px;right:52.30px;text-align:right;-webkit-text-stroke:0.3px;">121</div>
<div class="t" style="top:655.40px;font-size:13px;line-height:19px;color:#303030;letter-spacing:0.300px;right:7.50px;text-align:right;-webkit-text-stroke:0.3px;">-0.1</div>
<div class="t" style="top:675.40px;font-size:13px;line-height:19px;color:#303030;letter-spacing:0.300px;left:182.65px;width:600px;text-align:center;-webkit-text-stroke:0.3px;">2066</div>
<div class="t" style="top:675.40px;font-size:13px;line-height:19px;color:#303030;letter-spacing:0.300px;left:262.15px;width:600px;text-align:center;-webkit-text-stroke:0.3px;">MOU</div>
<div class="t" style="top:675.40px;font-size:13px;line-height:19px;color:#303030;letter-spacing:0.300px;left:312.65px;width:600px;text-align:center;-webkit-text-stroke:0.3px;">AA</div>
<div class="t" style="top:675.40px;font-size:13px;line-height:19px;color:#303030;letter-spacing:0.300px;right:721.70px;text-align:right;-webkit-text-stroke:0.3px;">3</div>
<div class="t" style="top:675.40px;font-size:13px;line-height:19px;color:#303030;letter-spacing:0.300px;right:691.20px;text-align:right;-webkit-text-stroke:0.3px;">1</div>
<div class="t" style="top:675.40px;font-size:13px;line-height:19px;color:#303030;letter-spacing:0.300px;right:661.20px;text-align:right;-webkit-text-stroke:0.3px;">10</div>
<div class="t" style="top:675.40px;font-size:13px;line-height:19px;color:#303030;letter-spacing:0.300px;right:617.30px;text-align:right;-webkit-text-stroke:0.3px;">1.80</div>
<div class="t" style="top:675.40px;font-size:13px;line-height:19px;color:#303030;letter-spacing:0.300px;right:582.00px;text-align:right;-webkit-text-stroke:0.3px;">32</div>
<div class="t" style="top:675.40px;font-size:13px;line-height:19px;color:#303030;letter-spacing:0.300px;right:547.40px;text-align:right;-webkit-text-stroke:0.3px;">0</div>
<div class="t" style="top:675.40px;font-size:13px;line-height:19px;color:#303030;letter-spacing:0.300px;right:497.90px;text-align:right;-webkit-text-stroke:0.3px;">35.0</div>
<div class="t" style="top:675.40px;font-size:13px;line-height:19px;color:#303030;letter-spacing:0.300px;right:463.40px;text-align:right;-webkit-text-stroke:0.3px;">25</div>
<div class="t" style="top:675.40px;font-size:13px;line-height:19px;color:#303030;letter-spacing:0.300px;right:429.70px;text-align:right;-webkit-text-stroke:0.3px;">7</div>
<div class="t" style="top:675.40px;font-size:13px;line-height:19px;color:#303030;letter-spacing:0.300px;right:393.80px;text-align:right;-webkit-text-stroke:0.3px;">3</div>
<div class="t" style="top:675.40px;font-size:13px;line-height:19px;color:#303030;letter-spacing:0.300px;right:358.70px;text-align:right;-webkit-text-stroke:0.3px;">10</div>
<div class="t" style="top:675.40px;font-size:13px;line-height:19px;color:#303030;letter-spacing:0.300px;right:323.20px;text-align:right;-webkit-text-stroke:0.3px;">40</div>
<div class="t" style="top:675.40px;font-size:13px;line-height:19px;color:#303030;letter-spacing:0.300px;right:279.90px;text-align:right;-webkit-text-stroke:0.3px;">1.00</div>
<div class="t" style="top:675.40px;font-size:13px;line-height:19px;color:#303030;letter-spacing:0.300px;right:235.70px;text-align:right;-webkit-text-stroke:0.3px;">0.8</div>
<div class="t" style="top:675.40px;font-size:13px;line-height:19px;color:#303030;letter-spacing:0.300px;right:192.00px;text-align:right;-webkit-text-stroke:0.3px;">2.6</div>
<div class="t" style="top:675.40px;font-size:13px;line-height:19px;color:#303030;letter-spacing:0.300px;right:149.00px;text-align:right;-webkit-text-stroke:0.3px;">10.3</div>
<div class="t" style="top:675.40px;font-size:13px;line-height:19px;color:#303030;letter-spacing:0.300px;right:96.30px;text-align:right;-webkit-text-stroke:0.3px;">.275</div>
<div class="t" style="top:675.40px;font-size:13px;line-height:19px;color:#303030;letter-spacing:0.300px;right:52.30px;text-align:right;-webkit-text-stroke:0.3px;">218</div>
<div class="t" style="top:675.40px;font-size:13px;line-height:19px;color:#303030;letter-spacing:0.300px;right:7.50px;text-align:right;-webkit-text-stroke:0.3px;">0.7</div>
<div class="t" style="top:715.20px;font-size:13px;line-height:19px;color:#303030;letter-spacing:0.300px;left:182.65px;width:600px;text-align:center;-webkit-text-stroke:0.3px;">2063</div>
<div class="t" style="top:715.20px;font-size:13px;line-height:19px;color:#303030;letter-spacing:0.300px;left:312.65px;width:600px;text-align:center;-webkit-text-stroke:0.3px;">HS</div>
<div class="t" style="top:715.20px;font-size:13px;line-height:19px;color:#303030;letter-spacing:0.300px;right:721.70px;text-align:right;-webkit-text-stroke:0.3px;">4</div>
<div class="t" style="top:715.20px;font-size:13px;line-height:19px;color:#303030;letter-spacing:0.300px;right:691.20px;text-align:right;-webkit-text-stroke:0.3px;">1</div>
<div class="t" style="top:715.20px;font-size:13px;line-height:19px;color:#303030;letter-spacing:0.300px;right:661.20px;text-align:right;-webkit-text-stroke:0.3px;">0</div>
<div class="t" style="top:715.20px;font-size:13px;line-height:19px;color:#303030;letter-spacing:0.300px;right:617.30px;text-align:right;-webkit-text-stroke:0.3px;">1.31</div>
<div class="t" style="top:715.20px;font-size:13px;line-height:19px;color:#303030;letter-spacing:0.300px;right:582.00px;text-align:right;-webkit-text-stroke:0.3px;">12</div>
<div class="t" style="top:715.20px;font-size:13px;line-height:19px;color:#303030;letter-spacing:0.300px;right:547.40px;text-align:right;-webkit-text-stroke:0.3px;">8</div>
<div class="t" style="top:715.20px;font-size:13px;line-height:19px;color:#303030;letter-spacing:0.300px;right:497.90px;text-align:right;-webkit-text-stroke:0.3px;">55.0</div>
<div class="t" style="top:715.20px;font-size:13px;line-height:19px;color:#303030;letter-spacing:0.300px;right:463.40px;text-align:right;-webkit-text-stroke:0.3px;">35</div>
<div class="t" style="top:715.20px;font-size:13px;line-height:19px;color:#303030;letter-spacing:0.300px;right:429.70px;text-align:right;-webkit-text-stroke:0.3px;">8</div>
<div class="t" style="top:715.20px;font-size:13px;line-height:19px;color:#303030;letter-spacing:0.300px;right:393.80px;text-align:right;-webkit-text-stroke:0.3px;">1</div>
<div class="t" style="top:715.20px;font-size:13px;line-height:19px;color:#303030;letter-spacing:0.300px;right:358.70px;text-align:right;-webkit-text-stroke:0.3px;">12</div>
<div class="t" style="top:715.20px;font-size:13px;line-height:19px;color:#303030;letter-spacing:0.300px;right:323.20px;text-align:right;-webkit-text-stroke:0.3px;">75</div>
<div class="t" style="top:715.20px;font-size:13px;line-height:19px;color:#303030;letter-spacing:0.300px;right:279.90px;text-align:right;-webkit-text-stroke:0.3px;">0.85</div>
<div class="t" style="top:715.20px;font-size:13px;line-height:19px;color:#303030;letter-spacing:0.300px;right:235.70px;text-align:right;-webkit-text-stroke:0.3px;">0.2</div>
<div class="t" style="top:715.20px;font-size:13px;line-height:19px;color:#303030;letter-spacing:0.300px;right:192.00px;text-align:right;-webkit-text-stroke:0.3px;">2.0</div>
<div class="t" style="top:715.20px;font-size:13px;line-height:19px;color:#303030;letter-spacing:0.300px;right:149.00px;text-align:right;-webkit-text-stroke:0.3px;">12.3</div>
<div class="t" style="top:715.20px;font-size:13px;line-height:19px;color:#303030;letter-spacing:0.300px;right:96.30px;text-align:right;-webkit-text-stroke:0.3px;">.256</div>
<div class="t" style="top:715.20px;font-size:13px;line-height:19px;color:#303030;letter-spacing:0.300px;right:52.30px;text-align:right;-webkit-text-stroke:0.3px;">100</div>
<div class="t" style="top:715.20px;font-size:13px;line-height:19px;color:#303030;letter-spacing:0.300px;right:7.50px;text-align:right;-webkit-text-stroke:0.3px;">2.7</div>
<div class="t" style="top:735.20px;font-size:13px;line-height:19px;color:#303030;letter-spacing:0.300px;left:182.65px;width:600px;text-align:center;-webkit-text-stroke:0.3px;">2063</div>
<div class="t" style="top:735.20px;font-size:13px;line-height:19px;color:#303030;letter-spacing:0.300px;left:262.15px;width:600px;text-align:center;-webkit-text-stroke:0.3px;">NOR</div>
<div class="t" style="top:735.20px;font-size:13px;line-height:19px;color:#303030;letter-spacing:0.300px;left:312.65px;width:600px;text-align:center;-webkit-text-stroke:0.3px;">A</div>
<div class="t" style="top:735.20px;font-size:13px;line-height:19px;color:#303030;letter-spacing:0.300px;right:721.70px;text-align:right;-webkit-text-stroke:0.3px;">2</div>
<div class="t" style="top:735.20px;font-size:13px;line-height:19px;color:#303030;letter-spacing:0.300px;right:691.20px;text-align:right;-webkit-text-stroke:0.3px;">3</div>
<div class="t" style="top:735.20px;font-size:13px;line-height:19px;color:#303030;letter-spacing:0.300px;right:661.20px;text-align:right;-webkit-text-stroke:0.3px;">19</div>
<div class="t" style="top:735.20px;font-size:13px;line-height:19px;color:#303030;letter-spacing:0.300px;right:617.30px;text-align:right;-webkit-text-stroke:0.3px;">2.61</div>
<div class="t" style="top:735.20px;font-size:13px;line-height:19px;color:#303030;letter-spacing:0.300px;right:582.00px;text-align:right;-webkit-text-stroke:0.3px;">30</div>
<div class="t" style="top:735.20px;font-size:13px;line-height:19px;color:#303030;letter-spacing:0.300px;right:547.40px;text-align:right;-webkit-text-stroke:0.3px;">0</div>
<div class="t" style="top:735.20px;font-size:13px;line-height:19px;color:#303030;letter-spacing:0.300px;right:497.90px;text-align:right;-webkit-text-stroke:0.3px;">31.0</div>
<div class="t" style="top:735.20px;font-size:13px;line-height:19px;color:#303030;letter-spacing:0.300px;right:463.40px;text-align:right;-webkit-text-stroke:0.3px;">23</div>
<div class="t" style="top:735.20px;font-size:13px;line-height:19px;color:#303030;letter-spacing:0.300px;right:429.70px;text-align:right;-webkit-text-stroke:0.3px;">9</div>
<div class="t" style="top:735.20px;font-size:13px;line-height:19px;color:#303030;letter-spacing:0.300px;right:393.80px;text-align:right;-webkit-text-stroke:0.3px;">0</div>
<div class="t" style="top:735.20px;font-size:13px;line-height:19px;color:#303030;letter-spacing:0.300px;right:358.70px;text-align:right;-webkit-text-stroke:0.3px;">17</div>
<div class="t" style="top:735.20px;font-size:13px;line-height:19px;color:#303030;letter-spacing:0.300px;right:323.20px;text-align:right;-webkit-text-stroke:0.3px;">27</div>
<div class="t" style="top:735.20px;font-size:13px;line-height:19px;color:#303030;letter-spacing:0.300px;right:279.90px;text-align:right;-webkit-text-stroke:0.3px;">1.29</div>
<div class="t" style="top:735.20px;font-size:13px;line-height:19px;color:#303030;letter-spacing:0.300px;right:235.70px;text-align:right;-webkit-text-stroke:0.3px;">0.0</div>
<div class="t" style="top:735.20px;font-size:13px;line-height:19px;color:#303030;letter-spacing:0.300px;right:192.00px;text-align:right;-webkit-text-stroke:0.3px;">4.9</div>
<div class="t" style="top:735.20px;font-size:13px;line-height:19px;color:#303030;letter-spacing:0.300px;right:149.00px;text-align:right;-webkit-text-stroke:0.3px;">7.8</div>
<div class="t" style="top:735.20px;font-size:13px;line-height:19px;color:#303030;letter-spacing:0.300px;right:96.30px;text-align:right;-webkit-text-stroke:0.3px;">.271</div>
<div class="t" style="top:735.20px;font-size:13px;line-height:19px;color:#303030;letter-spacing:0.300px;right:52.30px;text-align:right;-webkit-text-stroke:0.3px;">141</div>
<div class="t" style="top:735.20px;font-size:13px;line-height:19px;color:#303030;letter-spacing:0.300px;right:7.50px;text-align:right;-webkit-text-stroke:0.3px;">0.2</div>
<div class="t" style="top:755.20px;font-size:13px;line-height:19px;color:#303030;letter-spacing:0.300px;left:182.65px;width:600px;text-align:center;-webkit-text-stroke:0.3px;">2064</div>
<div class="t" style="top:755.20px;font-size:13px;line-height:19px;color:#303030;letter-spacing:0.300px;left:262.15px;width:600px;text-align:center;-webkit-text-stroke:0.3px;">WAT</div>
<div class="t" style="top:755.20px;font-size:13px;line-height:19px;color:#303030;letter-spacing:0.300px;left:312.65px;width:600px;text-align:center;-webkit-text-stroke:0.3px;">AA</div>
<div class="t" style="top:755.20px;font-size:13px;line-height:19px;color:#303030;letter-spacing:0.300px;right:721.70px;text-align:right;-webkit-text-stroke:0.3px;">4</div>
<div class="t" style="top:755.20px;font-size:13px;line-height:19px;color:#303030;letter-spacing:0.300px;right:691.20px;text-align:right;-webkit-text-stroke:0.3px;">7</div>
<div class="t" style="top:755.20px;font-size:13px;line-height:19px;color:#303030;letter-spacing:0.300px;right:661.20px;text-align:right;-webkit-text-stroke:0.3px;">27</div>
<div class="t" style="top:755.20px;font-size:13px;line-height:19px;color:#303030;letter-spacing:0.300px;right:617.30px;text-align:right;-webkit-text-stroke:0.3px;">3.68</div>
<div class="t" style="top:755.20px;font-size:13px;line-height:19px;color:#303030;letter-spacing:0.300px;right:582.00px;text-align:right;-webkit-text-stroke:0.3px;">56</div>
<div class="t" style="top:755.20px;font-size:13px;line-height:19px;color:#303030;letter-spacing:0.300px;right:547.40px;text-align:right;-webkit-text-stroke:0.3px;">0</div>
<div class="t" style="top:755.20px;font-size:13px;line-height:19px;color:#303030;letter-spacing:0.300px;right:497.90px;text-align:right;-webkit-text-stroke:0.3px;">58.2</div>
<div class="t" style="top:755.20px;font-size:13px;line-height:19px;color:#303030;letter-spacing:0.300px;right:463.40px;text-align:right;-webkit-text-stroke:0.3px;">68</div>
<div class="t" style="top:755.20px;font-size:13px;line-height:19px;color:#303030;letter-spacing:0.300px;right:429.70px;text-align:right;-webkit-text-stroke:0.3px;">24</div>
<div class="t" style="top:755.20px;font-size:13px;line-height:19px;color:#303030;letter-spacing:0.300px;right:393.80px;text-align:right;-webkit-text-stroke:0.3px;">2</div>
<div class="t" style="top:755.20px;font-size:13px;line-height:19px;color:#303030;letter-spacing:0.300px;right:358.70px;text-align:right;-webkit-text-stroke:0.3px;">39</div>
<div class="t" style="top:755.20px;font-size:13px;line-height:19px;color:#303030;letter-spacing:0.300px;right:323.20px;text-align:right;-webkit-text-stroke:0.3px;">59</div>
<div class="t" style="top:755.20px;font-size:13px;line-height:19px;color:#303030;letter-spacing:0.300px;right:279.90px;text-align:right;-webkit-text-stroke:0.3px;">1.82</div>
<div class="t" style="top:755.20px;font-size:13px;line-height:19px;color:#303030;letter-spacing:0.300px;right:235.70px;text-align:right;-webkit-text-stroke:0.3px;">0.3</div>
<div class="t" style="top:755.20px;font-size:13px;line-height:19px;color:#303030;letter-spacing:0.300px;right:192.00px;text-align:right;-webkit-text-stroke:0.3px;">6.0</div>
<div class="t" style="top:755.20px;font-size:13px;line-height:19px;color:#303030;letter-spacing:0.300px;right:149.00px;text-align:right;-webkit-text-stroke:0.3px;">9.1</div>
<div class="t" style="top:755.20px;font-size:13px;line-height:19px;color:#303030;letter-spacing:0.300px;right:96.30px;text-align:right;-webkit-text-stroke:0.3px;">.373</div>
<div class="t" style="top:755.20px;font-size:13px;line-height:19px;color:#303030;letter-spacing:0.300px;right:52.30px;text-align:right;-webkit-text-stroke:0.3px;">108</div>
<div class="t" style="top:755.20px;font-size:13px;line-height:19px;color:#303030;letter-spacing:0.300px;right:7.50px;text-align:right;-webkit-text-stroke:0.3px;">0.4</div>
<div class="t" style="top:775.20px;font-size:13px;line-height:19px;color:#303030;letter-spacing:0.300px;left:182.65px;width:600px;text-align:center;-webkit-text-stroke:0.3px;">2065</div>
<div class="t" style="top:775.20px;font-size:13px;line-height:19px;color:#303030;letter-spacing:0.300px;left:262.15px;width:600px;text-align:center;-webkit-text-stroke:0.3px;">WAT</div>
<div class="t" style="top:775.20px;font-size:13px;line-height:19px;color:#303030;letter-spacing:0.300px;left:312.65px;width:600px;text-align:center;-webkit-text-stroke:0.3px;">AA</div>
<div class="t" style="top:775.20px;font-size:13px;line-height:19px;color:#303030;letter-spacing:0.300px;right:721.70px;text-align:right;-webkit-text-stroke:0.3px;">4</div>
<div class="t" style="top:775.20px;font-size:13px;line-height:19px;color:#303030;letter-spacing:0.300px;right:691.20px;text-align:right;-webkit-text-stroke:0.3px;">2</div>
<div class="t" style="top:775.20px;font-size:13px;line-height:19px;color:#303030;letter-spacing:0.300px;right:661.20px;text-align:right;-webkit-text-stroke:0.3px;">19</div>
<div class="t" style="top:775.20px;font-size:13px;line-height:19px;color:#303030;letter-spacing:0.300px;right:617.30px;text-align:right;-webkit-text-stroke:0.3px;">3.91</div>
<div class="t" style="top:775.20px;font-size:13px;line-height:19px;color:#303030;letter-spacing:0.300px;right:582.00px;text-align:right;-webkit-text-stroke:0.3px;">42</div>
<div class="t" style="top:775.20px;font-size:13px;line-height:19px;color:#303030;letter-spacing:0.300px;right:547.40px;text-align:right;-webkit-text-stroke:0.3px;">0</div>
<div class="t" style="top:775.20px;font-size:13px;line-height:19px;color:#303030;letter-spacing:0.300px;right:497.90px;text-align:right;-webkit-text-stroke:0.3px;">48.1</div>
<div class="t" style="top:775.20px;font-size:13px;line-height:19px;color:#303030;letter-spacing:0.300px;right:463.40px;text-align:right;-webkit-text-stroke:0.3px;">39</div>
<div class="t" style="top:775.20px;font-size:13px;line-height:19px;color:#303030;letter-spacing:0.300px;right:429.70px;text-align:right;-webkit-text-stroke:0.3px;">21</div>
<div class="t" style="top:775.20px;font-size:13px;line-height:19px;color:#303030;letter-spacing:0.300px;right:393.80px;text-align:right;-webkit-text-stroke:0.3px;">4</div>
<div class="t" style="top:775.20px;font-size:13px;line-height:19px;color:#303030;letter-spacing:0.300px;right:358.70px;text-align:right;-webkit-text-stroke:0.3px;">25</div>
<div class="t" style="top:775.20px;font-size:13px;line-height:19px;color:#303030;letter-spacing:0.300px;right:323.20px;text-align:right;-webkit-text-stroke:0.3px;">40</div>
<div class="t" style="top:775.20px;font-size:13px;line-height:19px;color:#303030;letter-spacing:0.300px;right:279.90px;text-align:right;-webkit-text-stroke:0.3px;">1.32</div>
<div class="t" style="top:775.20px;font-size:13px;line-height:19px;color:#303030;letter-spacing:0.300px;right:235.70px;text-align:right;-webkit-text-stroke:0.3px;">0.7</div>
<div class="t" style="top:775.20px;font-size:13px;line-height:19px;color:#303030;letter-spacing:0.300px;right:192.00px;text-align:right;-webkit-text-stroke:0.3px;">4.7</div>
<div class="t" style="top:775.20px;font-size:13px;line-height:19px;color:#303030;letter-spacing:0.300px;right:149.00px;text-align:right;-webkit-text-stroke:0.3px;">7.4</div>
<div class="t" style="top:775.20px;font-size:13px;line-height:19px;color:#303030;letter-spacing:0.300px;right:96.30px;text-align:right;-webkit-text-stroke:0.3px;">.273</div>
<div class="t" style="top:775.20px;font-size:13px;line-height:19px;color:#303030;letter-spacing:0.300px;right:52.30px;text-align:right;-webkit-text-stroke:0.3px;">101</div>
<div class="t" style="top:775.20px;font-size:13px;line-height:19px;color:#303030;letter-spacing:0.300px;right:7.50px;text-align:right;-webkit-text-stroke:0.3px;">-0.1</div>
<div class="t" style="top:795.20px;font-size:13px;line-height:19px;color:#303030;letter-spacing:0.300px;left:182.65px;width:600px;text-align:center;-webkit-text-stroke:0.3px;">2065</div>
<div class="t" style="top:795.20px;font-size:13px;line-height:19px;color:#303030;letter-spacing:0.300px;left:262.15px;width:600px;text-align:center;-webkit-text-stroke:0.3px;">BR</div>
<div class="t" style="top:795.20px;font-size:13px;line-height:19px;color:#303030;letter-spacing:0.300px;left:312.65px;width:600px;text-align:center;-webkit-text-stroke:0.3px;">AAA</div>
<div class="t" style="top:795.20px;font-size:13px;line-height:19px;color:#303030;letter-spacing:0.300px;right:721.70px;text-align:right;-webkit-text-stroke:0.3px;">2</div>
<div class="t" style="top:795.20px;font-size:13px;line-height:19px;color:#303030;letter-spacing:0.300px;right:691.20px;text-align:right;-webkit-text-stroke:0.3px;">1</div>
<div class="t" style="top:795.20px;font-size:13px;line-height:19px;color:#303030;letter-spacing:0.300px;right:661.20px;text-align:right;-webkit-text-stroke:0.3px;">4</div>
<div class="t" style="top:795.20px;font-size:13px;line-height:19px;color:#303030;letter-spacing:0.300px;right:617.30px;text-align:right;-webkit-text-stroke:0.3px;">2.19</div>
<div class="t" style="top:795.20px;font-size:13px;line-height:19px;color:#303030;letter-spacing:0.300px;right:582.00px;text-align:right;-webkit-text-stroke:0.3px;">11</div>
<div class="t" style="top:795.20px;font-size:13px;line-height:19px;color:#303030;letter-spacing:0.300px;right:547.40px;text-align:right;-webkit-text-stroke:0.3px;">0</div>
<div class="t" style="top:795.20px;font-size:13px;line-height:19px;color:#303030;letter-spacing:0.300px;right:497.90px;text-align:right;-webkit-text-stroke:0.3px;">12.1</div>
<div class="t" style="top:795.20px;font-size:13px;line-height:19px;color:#303030;letter-spacing:0.300px;right:463.40px;text-align:right;-webkit-text-stroke:0.3px;">15</div>
<div class="t" style="top:795.20px;font-size:13px;line-height:19px;color:#303030;letter-spacing:0.300px;right:429.70px;text-align:right;-webkit-text-stroke:0.3px;">3</div>
<div class="t" style="top:795.20px;font-size:13px;line-height:19px;color:#303030;letter-spacing:0.300px;right:393.80px;text-align:right;-webkit-text-stroke:0.3px;">0</div>
<div class="t" style="top:795.20px;font-size:13px;line-height:19px;color:#303030;letter-spacing:0.300px;right:358.70px;text-align:right;-webkit-text-stroke:0.3px;">5</div>
<div class="t" style="top:795.20px;font-size:13px;line-height:19px;color:#303030;letter-spacing:0.300px;right:323.20px;text-align:right;-webkit-text-stroke:0.3px;">8</div>
<div class="t" style="top:795.20px;font-size:13px;line-height:19px;color:#303030;letter-spacing:0.300px;right:279.90px;text-align:right;-webkit-text-stroke:0.3px;">1.62</div>
<div class="t" style="top:795.20px;font-size:13px;line-height:19px;color:#303030;letter-spacing:0.300px;right:235.70px;text-align:right;-webkit-text-stroke:0.3px;">0.0</div>
<div class="t" style="top:795.20px;font-size:13px;line-height:19px;color:#303030;letter-spacing:0.300px;right:192.00px;text-align:right;-webkit-text-stroke:0.3px;">3.6</div>
<div class="t" style="top:795.20px;font-size:13px;line-height:19px;color:#303030;letter-spacing:0.300px;right:149.00px;text-align:right;-webkit-text-stroke:0.3px;">5.8</div>
<div class="t" style="top:795.20px;font-size:13px;line-height:19px;color:#303030;letter-spacing:0.300px;right:96.30px;text-align:right;-webkit-text-stroke:0.3px;">.357</div>
<div class="t" style="top:795.20px;font-size:13px;line-height:19px;color:#303030;letter-spacing:0.300px;right:52.30px;text-align:right;-webkit-text-stroke:0.3px;">201</div>
<div class="t" style="top:795.20px;font-size:13px;line-height:19px;color:#303030;letter-spacing:0.300px;right:7.50px;text-align:right;-webkit-text-stroke:0.3px;">0.2</div>
<div class="t" style="top:815.20px;font-size:13px;line-height:19px;color:#303030;letter-spacing:0.300px;left:182.65px;width:600px;text-align:center;-webkit-text-stroke:0.3px;">2066</div>
<div class="t" style="top:815.20px;font-size:13px;line-height:19px;color:#303030;letter-spacing:0.300px;left:262.15px;width:600px;text-align:center;-webkit-text-stroke:0.3px;">WAT</div>
<div class="t" style="top:815.20px;font-size:13px;line-height:19px;color:#303030;letter-spacing:0.300px;left:312.65px;width:600px;text-align:center;-webkit-text-stroke:0.3px;">AA</div>
<div class="t" style="top:815.20px;font-size:13px;line-height:19px;color:#303030;letter-spacing:0.300px;right:721.70px;text-align:right;-webkit-text-stroke:0.3px;">1</div>
<div class="t" style="top:815.20px;font-size:13px;line-height:19px;color:#303030;letter-spacing:0.300px;right:691.20px;text-align:right;-webkit-text-stroke:0.3px;">0</div>
<div class="t" style="top:815.20px;font-size:13px;line-height:19px;color:#303030;letter-spacing:0.300px;right:661.20px;text-align:right;-webkit-text-stroke:0.3px;">11</div>
<div class="t" style="top:815.20px;font-size:13px;line-height:19px;color:#303030;letter-spacing:0.300px;right:617.30px;text-align:right;-webkit-text-stroke:0.3px;">0.39</div>
<div class="t" style="top:815.20px;font-size:13px;line-height:19px;color:#303030;letter-spacing:0.300px;right:582.00px;text-align:right;-webkit-text-stroke:0.3px;">20</div>
<div class="t" style="top:815.20px;font-size:13px;line-height:19px;color:#303030;letter-spacing:0.300px;right:547.40px;text-align:right;-webkit-text-stroke:0.3px;">0</div>
<div class="t" style="top:815.20px;font-size:13px;line-height:19px;color:#303030;letter-spacing:0.300px;right:497.90px;text-align:right;-webkit-text-stroke:0.3px;">23.0</div>
<div class="t" style="top:815.20px;font-size:13px;line-height:19px;color:#303030;letter-spacing:0.300px;right:463.40px;text-align:right;-webkit-text-stroke:0.3px;">9</div>
<div class="t" style="top:815.20px;font-size:13px;line-height:19px;color:#303030;letter-spacing:0.300px;right:429.70px;text-align:right;-webkit-text-stroke:0.3px;">1</div>
<div class="t" style="top:815.20px;font-size:13px;line-height:19px;color:#303030;letter-spacing:0.300px;right:393.80px;text-align:right;-webkit-text-stroke:0.3px;">1</div>
<div class="t" style="top:815.20px;font-size:13px;line-height:19px;color:#303030;letter-spacing:0.300px;right:358.70px;text-align:right;-webkit-text-stroke:0.3px;">7</div>
<div class="t" style="top:815.20px;font-size:13px;line-height:19px;color:#303030;letter-spacing:0.300px;right:323.20px;text-align:right;-webkit-text-stroke:0.3px;">20</div>
<div class="t" style="top:815.20px;font-size:13px;line-height:19px;color:#303030;letter-spacing:0.300px;right:279.90px;text-align:right;-webkit-text-stroke:0.3px;">0.70</div>
<div class="t" style="top:815.20px;font-size:13px;line-height:19px;color:#303030;letter-spacing:0.300px;right:235.70px;text-align:right;-webkit-text-stroke:0.3px;">0.4</div>
<div class="t" style="top:815.20px;font-size:13px;line-height:19px;color:#303030;letter-spacing:0.300px;right:192.00px;text-align:right;-webkit-text-stroke:0.3px;">2.7</div>
<div class="t" style="top:815.20px;font-size:13px;line-height:19px;color:#303030;letter-spacing:0.300px;right:149.00px;text-align:right;-webkit-text-stroke:0.3px;">7.8</div>
<div class="t" style="top:815.20px;font-size:13px;line-height:19px;color:#303030;letter-spacing:0.300px;right:96.30px;text-align:right;-webkit-text-stroke:0.3px;">.145</div>
<div class="t" style="top:815.20px;font-size:13px;line-height:19px;color:#303030;letter-spacing:0.300px;right:52.30px;text-align:right;-webkit-text-stroke:0.3px;">1003</div>
<div class="t" style="top:815.20px;font-size:13px;line-height:19px;color:#303030;letter-spacing:0.300px;right:7.50px;text-align:right;-webkit-text-stroke:0.3px;">0.4</div>
<div class="t" style="top:835.20px;font-size:13px;line-height:19px;color:#303030;letter-spacing:0.300px;left:182.65px;width:600px;text-align:center;-webkit-text-stroke:0.3px;">2066</div>
<div class="t" style="top:835.20px;font-size:13px;line-height:19px;color:#303030;letter-spacing:0.300px;left:262.15px;width:600px;text-align:center;-webkit-text-stroke:0.3px;">BR</div>
<div class="t" style="top:835.20px;font-size:13px;line-height:19px;color:#303030;letter-spacing:0.300px;left:312.65px;width:600px;text-align:center;-webkit-text-stroke:0.3px;">AAA</div>
<div class="t" style="top:835.20px;font-size:13px;line-height:19px;color:#303030;letter-spacing:0.300px;right:721.70px;text-align:right;-webkit-text-stroke:0.3px;">0</div>
<div class="t" style="top:835.20px;font-size:13px;line-height:19px;color:#303030;letter-spacing:0.300px;right:691.20px;text-align:right;-webkit-text-stroke:0.3px;">0</div>
<div class="t" style="top:835.20px;font-size:13px;line-height:19px;color:#303030;letter-spacing:0.300px;right:661.20px;text-align:right;-webkit-text-stroke:0.3px;">3</div>
<div class="t" style="top:835.20px;font-size:13px;line-height:19px;color:#303030;letter-spacing:0.300px;right:617.30px;text-align:right;-webkit-text-stroke:0.3px;">3.68</div>
<div class="t" style="top:835.20px;font-size:13px;line-height:19px;color:#303030;letter-spacing:0.300px;right:582.00px;text-align:right;-webkit-text-stroke:0.3px;">9</div>
<div class="t" style="top:835.20px;font-size:13px;line-height:19px;color:#303030;letter-spacing:0.300px;right:547.40px;text-align:right;-webkit-text-stroke:0.3px;">0</div>
<div class="t" style="top:835.20px;font-size:13px;line-height:19px;color:#303030;letter-spacing:0.300px;right:497.90px;text-align:right;-webkit-text-stroke:0.3px;">7.1</div>
<div class="t" style="top:835.20px;font-size:13px;line-height:19px;color:#303030;letter-spacing:0.300px;right:463.40px;text-align:right;-webkit-text-stroke:0.3px;">9</div>
<div class="t" style="top:835.20px;font-size:13px;line-height:19px;color:#303030;letter-spacing:0.300px;right:429.70px;text-align:right;-webkit-text-stroke:0.3px;">3</div>
<div class="t" style="top:835.20px;font-size:13px;line-height:19px;color:#303030;letter-spacing:0.300px;right:393.80px;text-align:right;-webkit-text-stroke:0.3px;">1</div>
<div class="t" style="top:835.20px;font-size:13px;line-height:19px;color:#303030;letter-spacing:0.300px;right:358.70px;text-align:right;-webkit-text-stroke:0.3px;">2</div>
<div class="t" style="top:835.20px;font-size:13px;line-height:19px;color:#303030;letter-spacing:0.300px;right:323.20px;text-align:right;-webkit-text-stroke:0.3px;">2</div>
<div class="t" style="top:835.20px;font-size:13px;line-height:19px;color:#303030;letter-spacing:0.300px;right:279.90px;text-align:right;-webkit-text-stroke:0.3px;">1.50</div>
<div class="t" style="top:835.20px;font-size:13px;line-height:19px;color:#303030;letter-spacing:0.300px;right:235.70px;text-align:right;-webkit-text-stroke:0.3px;">1.2</div>
<div class="t" style="top:835.20px;font-size:13px;line-height:19px;color:#303030;letter-spacing:0.300px;right:192.00px;text-align:right;-webkit-text-stroke:0.3px;">2.5</div>
<div class="t" style="top:835.20px;font-size:13px;line-height:19px;color:#303030;letter-spacing:0.300px;right:149.00px;text-align:right;-webkit-text-stroke:0.3px;">2.5</div>
<div class="t" style="top:835.20px;font-size:13px;line-height:19px;color:#303030;letter-spacing:0.300px;right:96.30px;text-align:right;-webkit-text-stroke:0.3px;">.333</div>
<div class="t" style="top:835.20px;font-size:13px;line-height:19px;color:#303030;letter-spacing:0.300px;right:52.30px;text-align:right;-webkit-text-stroke:0.3px;">121</div>
<div class="t" style="top:835.20px;font-size:13px;line-height:19px;color:#303030;letter-spacing:0.300px;right:7.50px;text-align:right;-webkit-text-stroke:0.3px;">-0.1</div>
<div class="t" style="top:855.20px;font-size:13px;line-height:19px;color:#303030;letter-spacing:0.300px;left:182.65px;width:600px;text-align:center;-webkit-text-stroke:0.3px;">2066</div>
<div class="t" style="top:855.20px;font-size:13px;line-height:19px;color:#303030;letter-spacing:0.300px;left:262.15px;width:600px;text-align:center;-webkit-text-stroke:0.3px;">MOU</div>
<div class="t" style="top:855.20px;font-size:13px;line-height:19px;color:#303030;letter-spacing:0.300px;left:312.65px;width:600px;text-align:center;-webkit-text-stroke:0.3px;">AA</div>
<div class="t" style="top:855.20px;font-size:13px;line-height:19px;color:#303030;letter-spacing:0.300px;right:721.70px;text-align:right;-webkit-text-stroke:0.3px;">3</div>
<div class="t" style="top:855.20px;font-size:13px;line-height:19px;color:#303030;letter-spacing:0.300px;right:691.20px;text-align:right;-webkit-text-stroke:0.3px;">1</div>
<div class="t" style="top:855.20px;font-size:13px;line-height:19px;color:#303030;letter-spacing:0.300px;right:661.20px;text-align:right;-webkit-text-stroke:0.3px;">10</div>
<div class="t" style="top:855.20px;font-size:13px;line-height:19px;color:#303030;letter-spacing:0.300px;right:617.30px;text-align:right;-webkit-text-stroke:0.3px;">1.80</div>
<div class="t" style="top:855.20px;font-size:13px;line-height:19px;color:#303030;letter-spacing:0.300px;right:582.00px;text-align:right;-webkit-text-stroke:0.3px;">32</div>
<div class="t" style="top:855.20px;font-size:13px;line-height:19px;color:#303030;letter-spacing:0.300px;right:547.40px;text-align:right;-webkit-text-stroke:0.3px;">0</div>
<div class="t" style="top:855.20px;font-size:13px;line-height:19px;color:#303030;letter-spacing:0.300px;right:497.90px;text-align:right;-webkit-text-stroke:0.3px;">35.0</div>
<div class="t" style="top:855.20px;font-size:13px;line-height:19px;color:#303030;letter-spacing:0.300px;right:463.40px;text-align:right;-webkit-text-stroke:0.3px;">25</div>
<div class="t" style="top:855.20px;font-size:13px;line-height:19px;color:#303030;letter-spacing:0.300px;right:429.70px;text-align:right;-webkit-text-stroke:0.3px;">7</div>
<div class="t" style="top:855.20px;font-size:13px;line-height:19px;color:#303030;letter-spacing:0.300px;right:393.80px;text-align:right;-webkit-text-stroke:0.3px;">3</div>
<div class="t" style="top:855.20px;font-size:13px;line-height:19px;color:#303030;letter-spacing:0.300px;right:358.70px;text-align:right;-webkit-text-stroke:0.3px;">10</div>
<div class="t" style="top:855.20px;font-size:13px;line-height:19px;color:#303030;letter-spacing:0.300px;right:323.20px;text-align:right;-webkit-text-stroke:0.3px;">40</div>
<div class="t" style="top:855.20px;font-size:13px;line-height:19px;color:#303030;letter-spacing:0.300px;right:279.90px;text-align:right;-webkit-text-stroke:0.3px;">1.00</div>
<div class="t" style="top:855.20px;font-size:13px;line-height:19px;color:#303030;letter-spacing:0.300px;right:235.70px;text-align:right;-webkit-text-stroke:0.3px;">0.8</div>
<div class="t" style="top:855.20px;font-size:13px;line-height:19px;color:#303030;letter-spacing:0.300px;right:192.00px;text-align:right;-webkit-text-stroke:0.3px;">2.6</div>
<div class="t" style="top:855.20px;font-size:13px;line-height:19px;color:#303030;letter-spacing:0.300px;right:149.00px;text-align:right;-webkit-text-stroke:0.3px;">10.3</div>
<div class="t" style="top:855.20px;font-size:13px;line-height:19px;color:#303030;letter-spacing:0.300px;right:96.30px;text-align:right;-webkit-text-stroke:0.3px;">.275</div>
<div class="t" style="top:855.20px;font-size:13px;line-height:19px;color:#303030;letter-spacing:0.300px;right:52.30px;text-align:right;-webkit-text-stroke:0.3px;">218</div>
<div class="t" style="top:855.20px;font-size:13px;line-height:19px;color:#303030;letter-spacing:0.300px;right:7.50px;text-align:right;-webkit-text-stroke:0.3px;">0.7</div>
</body></html>
